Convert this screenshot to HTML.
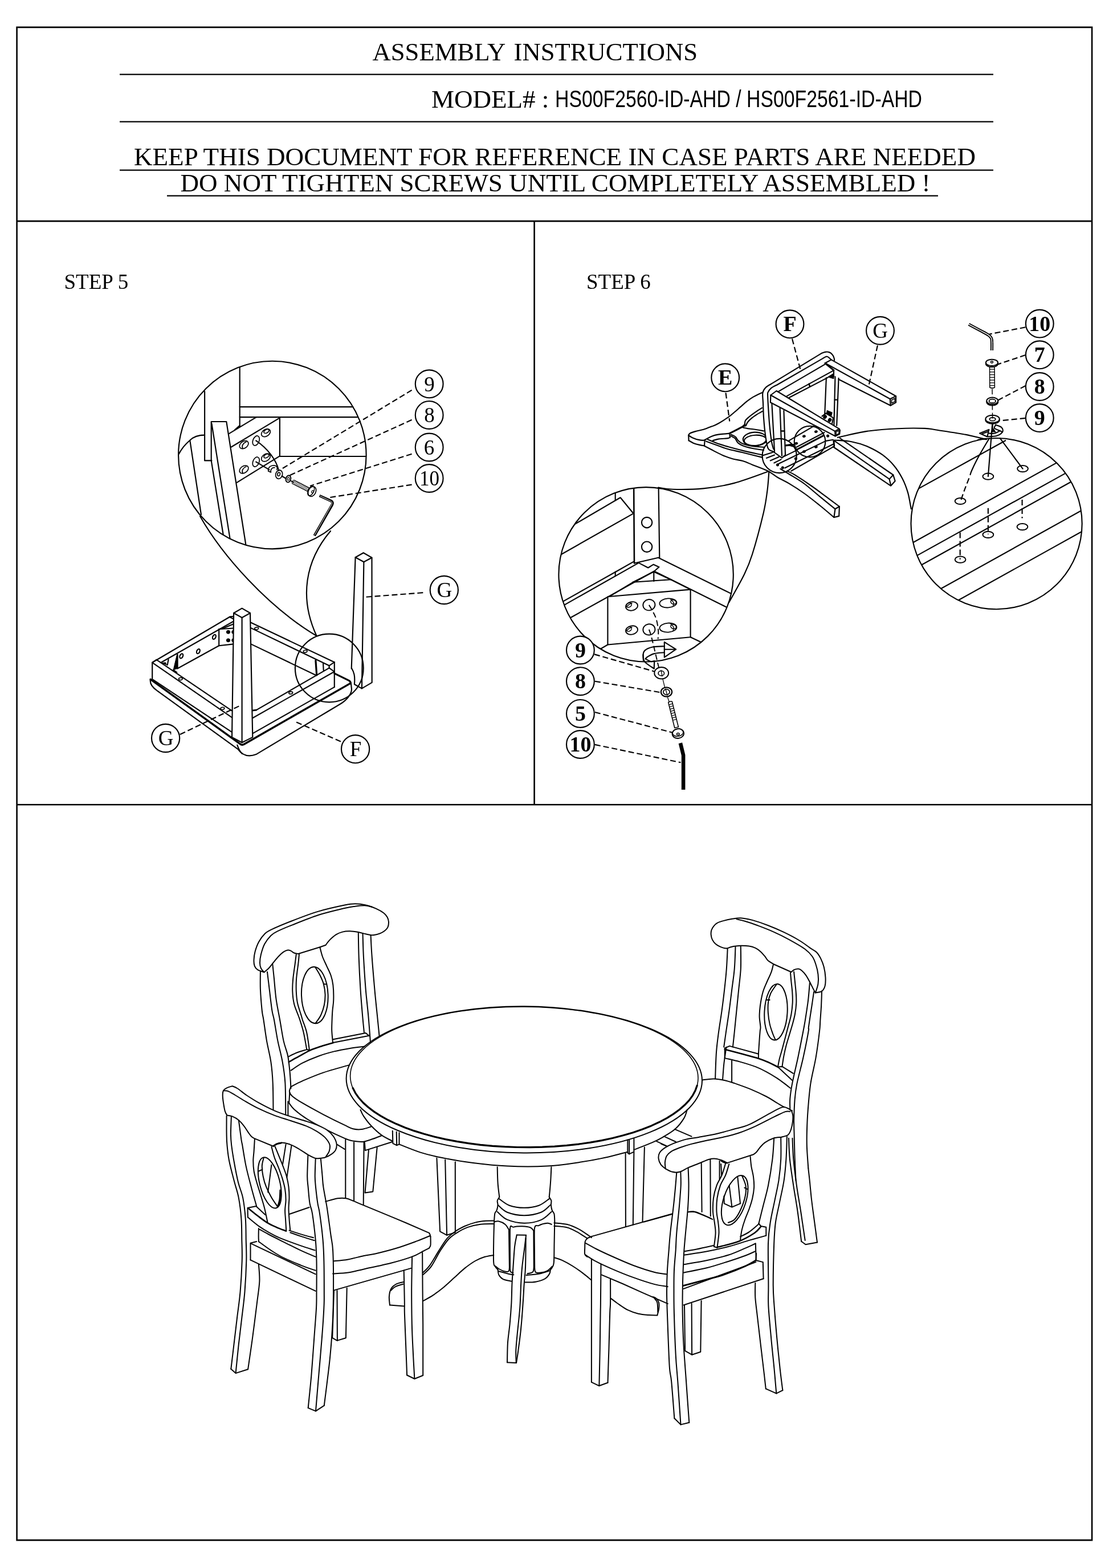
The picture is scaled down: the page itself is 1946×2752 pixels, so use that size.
<!DOCTYPE html>
<html lang="en">
<head>
<meta charset="utf-8">
<title>Assembly Instructions</title>
<style>
html,body{margin:0;padding:0;background:#fff;}
body{width:1946px;height:2752px;overflow:hidden;position:relative;}
svg{position:absolute;left:0;top:0;display:block;will-change:transform;}
path,circle,ellipse,rect,line,polyline,polygon{vector-effect:non-scaling-stroke;}
text{font-family:"Liberation Serif",serif;fill:#000;stroke:none;}
.sans{font-family:"Liberation Sans",sans-serif;}
.l{fill:none;stroke:#000;stroke-width:1.9;stroke-linecap:round;stroke-linejoin:round;}
.d{fill:none;stroke:#000;stroke-width:1.9;stroke-dasharray:10 5;}
.w{fill:#fff;stroke:#000;stroke-width:1.9;stroke-linejoin:round;}
.k{fill:#000;stroke:#000;stroke-width:1;}
.s56 .l,.s56 .w,.s56 .d{stroke-width:2.15;}
.main .l,.main .w{stroke-width:2;}
</style>
</head>
<body>
<svg width="1946" height="2752" viewBox="0 0 1946 2752">
<!-- 00_frame.svg -->
<g fill="none" stroke="#000" stroke-width="2.6" stroke-linecap="butt">
<rect x="29.6" y="47.9" width="1886.5" height="2655.2"/>
<path d="M29.6 388.1H1916.1M29.6 1412.3H1916.1M937.6 388.1V1412.3"/>
</g>
<path fill="none" stroke="#000" stroke-width="2.2" d="M210 130.6H1743M210 213.7H1743M210 298.6H1743M293 343.6H1646"/>
<text x="653.5" y="106" font-size="45" word-spacing="4.9" textLength="570.5" lengthAdjust="spacingAndGlyphs">ASSEMBLY INSTRUCTIONS</text>
<text x="757" y="189" font-size="45">MODEL# :</text>
<text class="sans" x="974" y="187.5" font-size="42" textLength="644" lengthAdjust="spacingAndGlyphs">HS00F2560-ID-AHD / HS00F2561-ID-AHD</text>
<text x="235" y="290" font-size="45" textLength="1477" lengthAdjust="spacingAndGlyphs">KEEP THIS DOCUMENT FOR REFERENCE IN CASE PARTS ARE NEEDED</text>
<text x="316.5" y="336" font-size="45" textLength="1316" lengthAdjust="spacingAndGlyphs">DO NOT TIGHTEN SCREWS UNTIL COMPLETELY ASSEMBLED !</text>
<text x="112.5" y="507" font-size="37">STEP 5</text>
<text x="1029" y="507" font-size="37">STEP 6</text>
<!-- 10_step5_bubble.svg -->
<g class="s56">
<!-- Step 5 magnified bubble: coordinates traced at 4.06x from origin (300,620) -->
<g transform="translate(300 620) scale(0.24631)" class="l">
<circle cx="722" cy="725" r="669"/>
<!-- back rails -->
<path d="M490 100V520M240 272V765H290"/>
<path d="M490 382H1297M490 455H1330M775 735H1390"/>
<!-- seat edge on the left -->
<path d="M240 583C190 583 160 595 135 620C100 650 70 690 55 720M135 620L215 1150"/>
<!-- leg G -->
<path d="M287 487H395L533 1362M287 487V765L372 1290M290 500L420 1318"/>
<!-- corner block -->
<path d="M410 575L605 457M455 545L490 515M430 668L775 460V732L468 922"/>
<!-- holes -->
<g stroke-width="1.72">
<ellipse cx="520" cy="652" rx="35" ry="24" transform="rotate(-35 520 652)"/>
<path d="M512 680C500 660 515 640 535 632"/>
<ellipse cx="606" cy="623" rx="22" ry="36" transform="rotate(22 606 623)"/>
<ellipse cx="676" cy="567" rx="35" ry="24" transform="rotate(-35 676 567)"/>
<ellipse cx="680" cy="556" rx="20" ry="12" transform="rotate(-30 680 556)"/>
<ellipse cx="520" cy="828" rx="35" ry="24" transform="rotate(-35 520 828)"/>
<path d="M512 856C500 836 515 816 535 808"/>
<ellipse cx="606" cy="774" rx="22" ry="36" transform="rotate(22 606 774)"/>
<ellipse cx="676" cy="743" rx="35" ry="24" transform="rotate(-35 676 743)"/>
<ellipse cx="680" cy="732" rx="20" ry="12" transform="rotate(-30 680 732)"/>
</g>
<!-- guide lines from holes -->
<path d="M606 623C690 680 750 760 768 835M606 774L700 830M790 875L815 890M855 910L872 918"/>
<!-- half washer -->
<path d="M693 840C690 815 710 795 740 800C755 803 760 815 755 830M693 840L712 848C708 828 720 812 740 815" stroke-width="1.72"/>
<!-- washer 9 -->
<ellipse cx="770" cy="864" rx="24" ry="31" transform="rotate(15 770 864)" stroke-width="1.72"/>
<ellipse cx="768" cy="862" rx="9" ry="13" transform="rotate(15 768 862)" stroke-width="1.72"/>
<!-- washer 8 -->
<ellipse cx="836" cy="895" rx="17" ry="25" transform="rotate(15 836 895)" stroke-width="1.97"/>
<ellipse cx="836" cy="895" rx="7" ry="11" transform="rotate(15 836 895)" stroke-width="1.23"/>
<!-- screw 6 -->
<g transform="translate(870 916) rotate(27)">
<path d="M0 -14H130M0 14H130M0 -14C-6 -7 -6 7 0 14" stroke-width="1.23"/>
<path d="M8 -14V14M18 -14V14M28 -14V14M38 -14V14M48 -14V14M58 -14V14M68 -14V14M78 -14V14M88 -14V14M98 -14V14M108 -14V14M118 -14V14" stroke-width="0.99"/>
<path d="M130 -14L140 -30M130 14L140 30" stroke-width="1.48"/>
<ellipse cx="152" cy="0" rx="26" ry="37" stroke-width="1.72" fill="#fff"/>
<ellipse cx="143" cy="0" rx="20" ry="36" stroke-width="1.48"/>
<ellipse cx="156" cy="0" rx="7" ry="9" stroke-width="1.23"/>
</g>
<!-- allen key 10 -->
<path d="M1058 1015L1140 1052C1152 1058 1154 1068 1148 1080L1022 1300" stroke-width="4.6" stroke-linecap="butt"/>
<path d="M1062 1017L1138 1054C1148 1060 1150 1068 1145 1078L1023 1296" stroke="#fff" stroke-width="0.9" stroke-linecap="butt"/>
</g>
<!-- leaders + callouts -->
<path class="d" d="M722.6 684.7L491 825M722.6 736.8L509 834M722.6 796.8L544 853M722.6 850.6L576 873.5"/>
<g class="l">
<circle cx="753.2" cy="673.8" r="24.4"/><circle cx="753.2" cy="728.4" r="24.4"/><circle cx="753.2" cy="785" r="24.4"/><circle cx="753.2" cy="839.5" r="24.4"/>
</g>
<g font-size="37" text-anchor="middle">
<text x="753.5" y="686.5">9</text><text x="753.5" y="741">8</text><text x="753" y="797.5">6</text><text x="753.5" y="852" textLength="35" lengthAdjust="spacingAndGlyphs">10</text>
</g>
</g>
<!-- 11_step5_frame.svg -->
<g class="s56">
<path class="l" d="M263.8 1192.9C262.9 1200.9 267.2 1206.5 275.9 1212.3L417.5 1314.9C424.9 1325.3 434.7 1329.6 449.3 1324.1L597.3 1235.5C608.4 1228.7 617.0 1218.2 617.0 1209.6L615.8 1198.5"/>
<path class="l" d="M416.3 1307.5 C418.1 1313.0 420.0 1317.9 424.9 1322.9"/>
<path class="l" style="stroke-width:3.4" d="M264.2 1192.3L421.2 1305.6Q424.9 1308.7 428.3 1306.2L615.1 1199.1"/>
<path class="l" style="stroke-width:3.2" d="M586.8 1181.9 L612.7 1194.6 Q615.5 1196.1 615.3 1199.8"/>
<path class="l" d="M267.2 1162.8L267.2 1191.7"/>
<path class="l" d="M268.5 1192.9L406.4 1284.7"/>
<path class="l" d="M267.2 1162.8L406.4 1258.8"/>
<path class="l" d="M274.6 1157.9L406.4 1247.1"/>
<path class="l" d="M267.2 1162.8L274.6 1157.9"/>
<path class="l" d="M267.2 1162.8L403.9 1082.2L410.1 1081.9"/>
<path class="l" d="M282.6 1162.8L410.1 1090.2"/>
<path class="l" d="M311.6 1173.3L384.2 1133.3L410.1 1130.4"/>
<path class="l" d="M384.2 1104.3L384.2 1133.3"/>
<path class="l" d="M384.2 1104.3L410.1 1102.5"/>
<path class="l" d="M390.4 1103.3L410.1 1095.1"/>
<path class="l" d="M402.7 1082.8L410.1 1086.5"/>
<path class="l" d="M295.6 1157.3L293.7 1167.1"/>
<path class="k" d="M311.0 1146.8L304.2 1175.8L311.6 1173.3Z"/>
<path class="l" d="M311.6 1148.7L311.6 1173.3"/>
<path class="l" d="M304.2 1175.8L310.3 1180.1"/>
<path class="k" d="M284.5 1163.4L290.6 1162.8L292.5 1167.1Z"/>
<ellipse class="l" cx="318.3" cy="1151.4" rx="2.6" ry="4.2" transform="rotate(25 318.3 1151.4)"/>
<ellipse class="l" cx="347.9" cy="1143.1" rx="2.6" ry="4.2" transform="rotate(25 347.9 1143.1)"/>
<ellipse class="l" cx="375.9" cy="1117.9" rx="2.6" ry="4.2" transform="rotate(25 375.9 1117.9)"/>
<ellipse class="k" cx="400.5" cy="1109.3" rx="3.2" ry="3.0" transform="rotate(0 400.5 1109.3)"/>
<ellipse class="k" cx="400.5" cy="1123.8" rx="3.2" ry="3.0" transform="rotate(0 400.5 1123.8)"/>
<path class="k" d="M409.7 1106.3 a3 3 0 0 0 0 6Z"/>
<path class="k" d="M409.7 1120.8 a3 3 0 0 0 0 6Z"/>
<path class="l" d="M439.4 1092.3L586.8 1162.2"/>
<path class="l" d="M439.7 1101.9L577.6 1168.3"/>
<path class="l" d="M440.3 1130.4L554.2 1185.0"/>
<path class="l" d="M586.8 1162.2L577.6 1168.3"/>
<path class="l" d="M577.6 1168.3L577.6 1172.4"/>
<path class="l" d="M577.6 1172.4L586.8 1178.8"/>
<path class="l" d="M586.8 1162.2L586.8 1205.9"/>
<path class="l" d="M577.6 1172.4L449.9 1246.1"/>
<path class="l" d="M586.8 1178.8L443.7 1260.0"/>
<path class="l" d="M586.8 1205.9L443.7 1287.1"/>
<path class="l" style="stroke-width:2.6" d="M441.9 1247.1L449.9 1246.1"/>
<path class="l" style="stroke-width:3.2" d="M553.9 1159.1L555.7 1185.0"/>
<path class="l" d="M567.1 1164.7L567.7 1176.4"/>
<ellipse class="l" style="stroke-width:1.7" cx="316.9" cy="1191.5" rx="3.4" ry="2.1" transform="rotate(-8 316.9 1191.5)"/>
<ellipse class="l" style="stroke-width:1.7" cx="390.4" cy="1243.4" rx="3.4" ry="2.1" transform="rotate(-8 390.4 1243.4)"/>
<ellipse class="l" style="stroke-width:1.7" cx="450.2" cy="1102.9" rx="3.4" ry="2.1" transform="rotate(-8 450.2 1102.9)"/>
<ellipse class="l" style="stroke-width:1.7" cx="535.7" cy="1143.1" rx="3.4" ry="2.1" transform="rotate(-8 535.7 1143.1)"/>
<ellipse class="l" style="stroke-width:1.7" cx="510.2" cy="1216.0" rx="3.4" ry="2.1" transform="rotate(-8 510.2 1216.0)"/>
<path class="w" d="M410.1 1076.0L424.6 1067.6L439.0 1076.0L443.3 1293.9L424.6 1303.2L407.0 1293.9Z"/>
<path class="l" d="M410.1 1076.0L424.6 1084.0L439.0 1076.0"/>
<path class="l" d="M424.6 1084.0L424.6 1303.2"/>
<path class="w" d="M623.6 978.3 L637.7 970.2 L652.5 978.8 L652.7 1197.9 L634.9 1208.4 L621.9 1201.0 C623.2 1186.2 621.3 1180.0 617.0 1172.7 L616.7 1173.4 Z"/>
<path class="l" d="M623.6 978.3L638.4 986.2L652.5 978.8"/>
<path class="l" d="M638.4 986.2L634.9 1208.4"/>
<circle class="l" cx="577.8" cy="1172.5" r="59.9"/>
<path class="l" d="M351 906C390 975 470 1065 555.5 1116"/>
<path class="l" d="M580 932C535 985 525 1050 555.5 1116"/>
<path class="d" d="M315.9 1289.0 L419.3 1239.4"/>
<path class="d" d="M520.1 1267.4 L602.5 1303.5"/>
<path class="d" d="M642.6 1047.8 L746.1 1039.9"/>
<circle class="w" cx="290.6" cy="1295.5" r="24.6"/>
<text x="291.1" y="1308.0" font-size="37" text-anchor="middle">G</text>
<circle class="w" cx="623.6" cy="1314.7" r="24.6"/>
<text x="624.1" y="1327.2" font-size="37" text-anchor="middle">F</text>
<circle class="w" cx="779.3" cy="1035.5" r="24.6"/>
<text x="779.8" y="1048.0" font-size="37" text-anchor="middle">G</text>
</g>
<!-- 20_step6_chair.svg -->
<g class="s56">
<clipPath id="cs6"><path d="M1180 700H1339.0L1345.8 800H1180Z"/></clipPath>
<g clip-path="url(#cs6)">
<ellipse class="l" cx="1324.4" cy="770.5" rx="20.6" ry="11.9" transform="rotate(-3 1324.4 770.5)"/>
<ellipse class="l" cx="1325.7" cy="772.9" rx="19.8" ry="9.2" transform="rotate(-3 1325.7 772.9)"/>
</g>
<path class="l" d="M1208.2 763.7C1208.7 763.1 1209.0 761.4 1211.2 760.3C1213.4 759.1 1217.7 757.9 1221.6 756.8C1225.4 755.7 1230.0 755.2 1234.5 753.8C1238.9 752.4 1244.3 750.2 1248.3 748.6C1252.3 747.0 1253.7 747.1 1258.6 744.3C1263.6 741.6 1273.0 735.6 1278.1 732.2C1283.1 728.7 1285.3 726.4 1288.9 723.3C1292.5 720.3 1296.1 717.0 1299.7 713.9C1303.3 710.7 1307.0 707.2 1310.6 704.4C1314.2 701.6 1318.0 699.0 1321.4 696.9C1324.8 694.9 1328.1 693.3 1330.9 691.9C1333.7 690.6 1337.1 689.3 1338.3 688.8"/>
<path class="l" d="M1208.2 763.7L1208.6 773.2"/>
<path class="l" d="M1208.2 764.1C1209.4 764.9 1212.6 767.2 1215.5 768.4C1218.5 769.7 1222.7 771.2 1225.9 771.9C1229.0 772.6 1232.5 772.8 1234.5 772.8C1236.5 772.7 1237.4 771.7 1237.9 771.5"/>
<path class="l" d="M1208.6 773.2C1210.1 774.0 1214.1 776.6 1217.2 777.9C1220.4 779.2 1224.4 780.2 1227.6 780.9C1230.7 781.7 1234.8 782.2 1236.2 782.4"/>
<path class="l" d="M1236.6 772.8L1236.0 782.7"/>
<path class="l" d="M1237.9 771.5C1239.7 770.5 1244.5 767.3 1248.3 765.9C1252.0 764.4 1256.2 763.3 1260.3 762.6C1264.5 761.8 1270.0 761.7 1273.3 761.4C1276.6 761.1 1279.0 760.8 1280.2 760.7"/>
<path class="l" d="M1250.9 773.2C1252.4 772.8 1257.0 771.2 1260.3 770.6C1263.6 770.0 1267.8 770.0 1270.7 769.7C1273.6 769.5 1275.9 769.5 1277.6 769.1C1279.3 768.8 1280.3 768.0 1280.9 767.8"/>
<path class="l" d="M1280.2 760.7L1281.0 767.8"/>
<path class="l" style="stroke-width:3" d="M1280.2 760.7C1282.3 759.6 1289.2 756.2 1293.1 754.2C1297.0 752.2 1301.1 750.1 1303.4 748.6C1305.7 747.1 1306.3 745.7 1306.9 745.2"/>
<path class="l" d="M1241.4 771.0C1244.5 772.3 1254.3 776.6 1260.3 778.8C1266.4 780.9 1270.4 782.0 1277.6 784.0C1284.8 786.0 1293.4 788.4 1303.4 790.9C1313.5 793.3 1332.2 797.3 1337.9 798.6"/>
<path class="l" d="M1238.8 774.5C1242.4 775.8 1253.9 779.9 1260.3 782.2C1266.8 784.5 1270.4 786.3 1277.6 788.3C1284.8 790.3 1293.4 791.9 1303.4 794.3C1313.5 796.8 1332.2 801.5 1337.9 802.9"/>
<path class="l" d="M1236.2 782.7C1238.8 784.0 1246.3 788.1 1251.7 790.9C1257.2 793.7 1263.2 797.0 1269.0 799.5C1274.7 801.9 1280.5 803.9 1286.2 805.5C1292.0 807.1 1297.7 807.2 1303.4 809.0C1309.2 810.7 1313.3 812.9 1320.7 815.9C1328.1 818.8 1340.4 823.1 1347.6 826.7C1354.8 830.3 1357.8 833.9 1363.9 837.5C1370.0 841.1 1376.3 843.6 1384.2 848.4C1392.1 853.1 1402.2 859.5 1411.3 866.0C1420.3 872.4 1429.7 880.0 1438.4 887.0C1447.1 894.0 1459.3 904.5 1463.4 908.0"/>
<path class="l" d="M1282.8 762.8C1284.1 763.5 1288.4 764.9 1290.5 766.7C1292.7 768.5 1293.5 771.6 1295.7 773.6C1297.8 775.6 1299.3 777.2 1303.4 778.8C1307.6 780.4 1314.6 782.1 1320.7 783.1C1326.8 784.1 1336.8 784.5 1340.0 784.8"/>
<path class="l" d="M1282.8 765.4C1283.9 766.1 1287.6 767.4 1289.7 769.3C1291.7 771.2 1292.5 774.9 1294.8 777.1C1297.1 779.2 1299.1 780.6 1303.4 782.2C1307.8 783.9 1314.6 785.7 1320.7 787.0C1326.8 788.3 1336.8 789.5 1340.0 790.0"/>
<path class="l" d="M1303.4 750.3C1304.9 750.6 1308.5 751.5 1312.1 752.1C1315.7 752.6 1320.3 753.1 1325.0 753.8C1329.7 754.5 1337.5 755.9 1340.0 756.4"/>
<path class="l" d="M1306.9 745.2C1307.1 744.0 1306.6 740.5 1307.9 738.2C1309.1 736.0 1311.7 734.0 1314.6 731.5C1317.6 729.0 1321.7 725.9 1325.5 723.3C1329.2 720.8 1335.1 717.1 1337.0 715.9"/>
<path class="l" d="M1308.8 747.1C1309.3 746.1 1310.3 743.1 1311.9 741.0C1313.6 738.8 1316.0 736.4 1318.7 734.2C1321.4 731.9 1325.0 729.4 1328.2 727.4C1331.3 725.4 1336.1 722.9 1337.7 722.0"/>
<path class="l" d="M1303.4 748.6L1308.8 747.1"/>
<path class="l" d="M1356.6 792.4C1355.2 791.5 1350.1 791.8 1347.8 787.0C1345.6 782.3 1344.4 772.8 1343.1 764.0C1341.8 755.2 1340.8 743.7 1340.1 734.2C1339.4 724.7 1339.3 714.6 1339.0 707.1C1338.7 699.6 1337.6 693.9 1338.4 689.4C1339.2 684.9 1340.9 682.9 1343.5 680.2C1346.2 677.5 1352.6 674.3 1354.4 673.2L1441.1 620.3C1442.2 619.9 1445.7 618.3 1447.9 617.9C1450.0 617.5 1451.9 617.2 1454.0 617.9C1456.0 618.5 1458.5 620.0 1460.0 621.7C1461.6 623.3 1462.8 626.0 1463.4 627.8C1464.1 629.6 1464.0 631.7 1464.1 632.5"/>
<path class="l" d="M1357.3 788.4C1356.7 786.1 1355.0 781.6 1353.9 774.8C1352.8 768.1 1351.4 756.8 1350.5 747.7C1349.6 738.7 1349.1 729.7 1348.5 720.6C1347.9 711.6 1347.2 698.9 1347.1 693.5C1347.0 688.0 1346.9 690.1 1347.9 688.1C1348.9 686.0 1350.4 683.4 1353.0 681.3C1355.7 679.1 1362.1 676.2 1363.9 675.2L1443.8 629.1C1445.0 628.6 1448.9 625.4 1451.2 625.7C1453.6 626.0 1456.9 630.0 1458.0 630.9"/>
<path class="l" d="M1447.2 639.6L1365.5 687.4"/>
<path class="l" d="M1462.5 650.4L1380.8 695.1"/>
<path class="l" d="M1452.6 662.6L1384.9 697.8"/>
<path class="l" style="stroke-width:2.6" d="M1419.7 673.8L1421.0 678.3"/>
<path class="l" d="M1458.7 631.4L1572.1 695.2"/>
<path class="l" d="M1447.9 637.3L1561.9 700.2"/>
<path class="l" d="M1471.6 665.7L1562.6 711.8"/>
<path class="l" d="M1447.9 637.3L1458.7 631.4"/>
<path class="l" style="stroke-width:3" d="M1447.9 637.7L1463.0 649.9"/>
<path class="l" d="M1561.9 700.3L1572.1 695.3L1572.1 706.4L1562.6 711.8Z"/>
<path class="l" style="stroke-width:1.6" d="M1564.6 702.0L1570.3 699.3L1570.3 704.8L1564.6 707.7Z"/>
<path class="l" d="M1449.9 663.0L1447.2 727.3"/>
<path class="l" d="M1465.5 661.0L1463.4 746.3"/>
<path class="l" d="M1471.6 663.7L1468.2 747.0"/>
<path class="l" d="M1463.0 649.9L1463.0 661.0"/>
<path class="l" style="stroke-width:2.4" d="M1464.8 701.6L1469.5 701.6"/>
<path class="k" d="M1452.6 661.6L1462.8 655.3L1463.0 664.8Z"/>
<path class="k" d="M1451.2 720.3L1460.3 724.0L1458.7 730.3L1450.3 726.8Z"/>
<path class="l" d="M1442.4 730.7L1449.2 725.3L1462.1 733.4L1460.0 743.6"/>
<ellipse class="k" cx="1447.6" cy="731.7" rx="2.8" ry="3.4" transform="rotate(30 1447.6 731.7)"/>
<ellipse class="k" cx="1456.0" cy="737.1" rx="2.8" ry="3.4" transform="rotate(30 1456.0 737.1)"/>
<path class="l" d="M1354.4 708.4L1359.1 792.4"/>
<path class="l" d="M1368.6 716.5L1372.0 799.9"/>
<path class="l" d="M1375.4 720.6L1378.1 799.9"/>
<path class="l" style="stroke-width:2.4" d="M1370.6 756.5L1376.1 756.5"/>
<path class="w" d="M1352.4 693.5L1362.5 686.0L1472.5 752.7L1473.9 755.1L1473.2 761.9L1465.7 765.5L1351.9 706.3Z"/>
<path class="l" d="M1352.4 693.5L1465.2 756.9"/>
<path class="l" d="M1465.2 756.9L1472.5 752.7"/>
<path class="l" d="M1465.2 756.9L1465.7 765.5"/>
<path class="l" style="stroke-width:1.5" d="M1467.1 758.2L1472.0 755.5L1472.0 760.9L1467.4 763.4Z"/>
<path class="l" d="M1383.5 773.9L1427.5 748.1"/>
<path class="l" d="M1397.7 784.7L1446.5 759.0"/>
<path class="l" style="stroke-width:3" d="M1398.4 789.0L1445.1 764.4"/>
<path class="l" d="M1374.7 801.6L1397.7 790.4"/>
<path class="l" d="M1366.6 813.8L1449.2 773.9"/>
<path class="l" d="M1377.4 821.3L1462.8 779.3"/>
<path class="l" d="M1388.2 826.7L1464.1 783.1"/>
<path class="l" d="M1449.2 773.9L1462.1 771.8"/>
<path class="l" d="M1463.4 773.9L1464.1 783.1"/>
<ellipse class="k" cx="1410.9" cy="765.7" rx="2.6" ry="1.9" transform="rotate(-10 1410.9 765.7)"/>
<ellipse class="k" cx="1431.9" cy="757.6" rx="2.6" ry="1.9" transform="rotate(-10 1431.9 757.6)"/>
<ellipse class="k" cx="1397.3" cy="778.2" rx="2.6" ry="1.9" transform="rotate(-10 1397.3 778.2)"/>
<ellipse class="k" cx="1431.9" cy="784.4" rx="2.6" ry="1.9" transform="rotate(-10 1431.9 784.4)"/>
<ellipse class="k" cx="1410.9" cy="792.6" rx="2.6" ry="1.9" transform="rotate(-10 1410.9 792.6)"/>
<ellipse class="k" cx="1396.4" cy="805.0" rx="2.2" ry="2.2"/>
<ellipse class="k" cx="1364.5" cy="815.9" rx="2.2" ry="2.2"/>
<ellipse class="k" cx="1373.3" cy="820.9" rx="2.2" ry="2.2"/>
<ellipse class="k" cx="1452.6" cy="765.1" rx="2.2" ry="2.2"/>
<path class="l" d="M1338.1 799.6L1355.7 793.9"/>
<path class="l" d="M1344.9 803.9L1359.1 798.5"/>
<path class="l" d="M1351.7 808.4L1366.6 802.0"/>
<path class="l" d="M1358.4 812.5L1370.6 806.4"/>
<path class="l" d="M1357.1 792.8L1372.0 803.7L1376.7 799.6"/>
<path class="k" d="M1379.4 780.6L1393.7 784.7L1389.6 779.3Z"/>
<path class="l" style="stroke-width:3" d="M1378.1 782.0L1392.3 780.6"/>
<circle class="l" cx="1367.7" cy="800.0" r="30.1"/>
<circle class="l" cx="1421.0" cy="775.0" r="27.3"/>
<path class="l" d="M1381.5 826.7C1383.7 827.9 1387.8 829.3 1395.0 833.7C1402.2 838.2 1415.8 847.2 1424.8 853.5C1433.9 859.8 1441.2 865.5 1449.2 871.4C1457.2 877.3 1469.0 886.1 1472.9 889.0"/>
<path class="l" d="M1369.3 822.9C1372.2 824.7 1379.9 829.1 1386.9 833.5C1393.9 837.8 1402.7 842.7 1411.3 849.0C1419.9 855.4 1429.3 864.0 1438.4 871.4C1447.4 878.8 1460.9 889.7 1465.5 893.3"/>
<path class="l" d="M1465.5 893.3L1472.9 889.0L1472.2 905.9L1463.4 908.0Z"/>
<path class="l" d="M1473.9 769.1L1567.3 833.5"/>
<path class="l" d="M1464.4 773.9L1560.6 840.9"/>
<path class="l" d="M1461.7 784.0L1562.6 852.4"/>
<path class="l" d="M1567.3 833.5L1570.7 844.3L1563.3 852.4L1560.6 840.9Z"/>
<path class="l" d="M1462.4 773.9L1463.7 784.0"/>
</g>
<!-- 21_step6_bubbles.svg -->
<g class="s56">
<clipPath id="cb1"><circle cx="1133.6" cy="1008.3" r="153.2"/></clipPath>
<g clip-path="url(#cb1)">
<path class="l" style="stroke-width:2.6" d="M1112.1 848.9L1113.0 988.5"/>
<path class="l" d="M1155.5 848.9L1157.3 978.8"/>
<circle class="l" cx="1135.1" cy="917.1" r="9.2"/>
<circle class="l" cx="1135.1" cy="959.7" r="9.2"/>
<path class="l" d="M1113.0 988.5L1120.7 986.8L1155.1 978.8"/>
<path class="l" d="M1004.3 922.5L1088.6 873.3L1110.7 900.3"/>
<path class="l" d="M1079.7 860.0L1079.7 878.1"/>
<path class="l" d="M980.0 975.7L1109.9 902.1"/>
<path class="l" d="M986.6 1056.4L1079.7 1004.0L1112.1 985.6"/>
<path class="l" d="M988.8 1062.6L1079.7 1011.1"/>
<path class="l" d="M1079.7 1003.6L1079.7 1011.1"/>
<path class="l" d="M1079.7 1011.1L1120.7 987.9"/>
<path class="l" d="M1120.7 987.9L1137.3 996.5L1146.7 990.7L1156.4 995.2L1148.4 1002.3L999.9 1084.7"/>
<path class="l" d="M1155.1 978.8L1288.1 1044.4"/>
<path class="l" d="M1148.4 1002.7L1279.2 1067.9"/>
<path class="l" d="M1110.7 1021.8L1147.3 1003.2L1147.3 1020.0"/>
<path class="l" d="M1147.3 1003.6L1177.2 1017.3"/>
<path class="l" d="M1110.7 1021.8L1177.2 1017.3"/>
<path class="l" d="M1070.8 1046.2L1110.7 1021.8"/>
<path class="l" d="M1177.2 1017.3L1211.6 1034.6"/>
<path class="l" d="M1066.4 1047.3L1211.6 1034.6L1211.6 1118.2L1066.4 1131.5Z"/>
<path class="l" d="M1066.4 1131.5L1048.7 1141.9"/>
<path class="l" d="M1211.6 1118.2L1232.7 1128.2"/>
</g>
<circle class="l" cx="1133.6" cy="1008.3" r="153.2"/>
<ellipse class="l" style="stroke-width:1.9" cx="1108.5" cy="1063.9" rx="10.6" ry="7.6" transform="rotate(-12 1108.5 1063.9)"/>
<ellipse class="l" style="stroke-width:1.5" cx="1103.6" cy="1062.1" rx="5.0" ry="3.6" transform="rotate(-30 1103.6 1062.1)"/>
<path class="l" style="stroke-width:1.5" d="M1099.7 1064.8C1100.4 1064.1 1102.5 1061.8 1104.1 1060.8C1105.6 1059.8 1108.2 1058.9 1109.0 1058.6"/>
<ellipse class="l" style="stroke-width:1.9" cx="1108.5" cy="1106.0" rx="10.6" ry="7.6" transform="rotate(-12 1108.5 1106.0)"/>
<ellipse class="l" style="stroke-width:1.5" cx="1103.6" cy="1104.2" rx="5.0" ry="3.6" transform="rotate(-30 1103.6 1104.2)"/>
<path class="l" style="stroke-width:1.5" d="M1099.7 1106.9C1100.4 1106.2 1102.5 1103.9 1104.1 1102.9C1105.6 1101.9 1108.2 1101.1 1109.0 1100.7"/>
<ellipse class="l" style="stroke-width:1.9" cx="1138.9" cy="1061.7" rx="10.6" ry="9.6" transform="rotate(-10 1138.9 1061.7)"/>
<ellipse class="l" style="stroke-width:1.9" cx="1138.9" cy="1104.9" rx="10.6" ry="9.6" transform="rotate(-10 1138.9 1104.9)"/>
<ellipse class="l" style="stroke-width:1.9" cx="1172.4" cy="1058.4" rx="15.0" ry="8.0" transform="rotate(-4 1172.4 1058.4)"/>
<ellipse class="l" style="stroke-width:1.5" cx="1181.7" cy="1056.6" rx="5.0" ry="3.6" transform="rotate(20 1181.7 1056.6)"/>
<path class="l" style="stroke-width:1.5" d="M1176.8 1051.7C1177.7 1052.7 1181.4 1056.1 1182.1 1057.9C1182.9 1059.8 1181.4 1062.0 1181.2 1062.8"/>
<ellipse class="l" style="stroke-width:1.9" cx="1172.4" cy="1101.6" rx="15.0" ry="8.0" transform="rotate(-4 1172.4 1101.6)"/>
<ellipse class="l" style="stroke-width:1.5" cx="1181.7" cy="1099.8" rx="5.0" ry="3.6" transform="rotate(20 1181.7 1099.8)"/>
<path class="l" style="stroke-width:1.5" d="M1176.8 1094.9C1177.7 1096.0 1181.4 1099.3 1182.1 1101.1C1182.9 1103.0 1181.4 1105.2 1181.2 1106.0"/>
<path class="d" style="stroke-width:1.9" stroke-dasharray="22 6" d="M1138.9 1061.7C1140.9 1065.4 1147.9 1076.5 1150.6 1083.8C1153.3 1091.2 1154.4 1099.7 1155.1 1106.0C1155.7 1112.3 1154.7 1118.9 1154.6 1121.5"/>
<path class="d" style="stroke-width:1.9" stroke-dasharray="22 6" d="M1138.9 1104.9C1139.7 1107.5 1140.7 1108.8 1143.7 1120.3C1146.6 1131.8 1154.4 1165.0 1156.6 1173.9"/>
<path class="l" style="stroke-width:1.3" d="M1163.1 1192.4L1166.7 1207.1"/>
<path class="l" style="stroke-width:1.3" d="M1171.4 1223.8L1174.1 1231.5"/>
<path class="l" d="M1165.5 1134.2C1162.1 1134.4 1151.1 1134.2 1145.5 1135.5C1139.9 1136.7 1134.5 1139.0 1131.6 1141.6C1128.8 1144.1 1128.5 1147.4 1128.5 1150.8C1128.5 1154.2 1128.4 1158.1 1131.6 1161.9C1134.9 1165.7 1145.0 1171.6 1147.7 1173.5"/>
<path class="l" d="M1165.5 1145.3C1162.6 1145.6 1153.1 1145.9 1148.3 1147.1C1143.4 1148.3 1138.9 1151.1 1136.3 1152.7C1133.6 1154.2 1133.2 1155.7 1132.6 1156.3"/>
<path class="l" d="M1132.6 1156.3C1134.1 1157.1 1139.2 1160.3 1141.8 1161.0C1144.4 1161.6 1147.2 1160.2 1148.3 1160.0"/>
<path class="l" d="M1128.5 1149.0L1128.9 1159.1"/>
<path class="l" d="M1148.3 1160.0L1147.7 1173.5"/>
<path class="l" d="M1165.8 1126.8L1186.1 1139.7L1165.8 1153.6Z"/>
<path class="l" d="M1165.8 1139.7L1186.1 1139.7"/>
<ellipse class="w" style="stroke-width:2" cx="1160.7" cy="1181.3" rx="12.4" ry="10.2"/>
<ellipse class="l" style="stroke-width:1.7" cx="1160.3" cy="1181.7" rx="5.2" ry="4.2"/>
<path class="l" style="stroke-width:1.3" d="M1159.9 1176.1L1162.1 1186.8"/>
<ellipse class="w" style="stroke-width:2.2" cx="1169.5" cy="1214.5" rx="9.6" ry="8.2"/>
<ellipse class="l" style="stroke-width:1.7" cx="1169.5" cy="1214.5" rx="5.6" ry="4.8"/>
<path class="l" style="stroke-width:1.3" d="M1167.7 1209.0L1171.0 1220.1"/>
<g transform="translate(1176.0 1232.1) rotate(76)">
<path class="w" style="stroke-width:1.6" d="M0 -3.4H46V3.4H0Q-2 0 0 -3.4Z"/>
<path class="l" style="stroke-width:1.2" d="M4 -3.4V3.4M8 -3.4V3.4M12 -3.4V3.4M16 -3.4V3.4M20 -3.4V3.4M24 -3.4V3.4M28 -3.4V3.4M32 -3.4V3.4"/>
</g>
<ellipse class="w" style="stroke-width:2" cx="1189.8" cy="1287.5" rx="10.2" ry="8.4" transform="rotate(-8 1189.8 1287.5)"/>
<ellipse class="l" style="stroke-width:1.5" cx="1189.5" cy="1285.7" rx="9.4" ry="6.6" transform="rotate(-8 1189.5 1285.7)"/>
<ellipse class="l" style="stroke-width:1.5" cx="1189.8" cy="1288.4" rx="2.3" ry="1.9"/>
<path d="M1193.9 1304.1L1199.1 1325.4L1199.1 1386.0" fill="none" stroke="#000" stroke-width="6.6" stroke-linejoin="round"/>
<path class="d" d="M1043.0 1148.4L1148.3 1178.5"/>
<path class="d" d="M1043.9 1195.7L1160.3 1215.5"/>
<path class="d" d="M1043.9 1250.0L1179.7 1285.7"/>
<path class="d" d="M1043.9 1306.9L1194.5 1338.3"/>
<circle class="w" cx="1018.4" cy="1141.0" r="24.4"/>
<text x="1018.4" y="1153.5" font-size="38" text-anchor="middle" font-weight="bold">9</text>
<circle class="w" cx="1018.4" cy="1195.7" r="24.4"/>
<text x="1018.4" y="1208.2" font-size="38" text-anchor="middle" font-weight="bold">8</text>
<circle class="w" cx="1018.4" cy="1252.4" r="24.4"/>
<text x="1018.4" y="1264.9" font-size="38" text-anchor="middle" font-weight="bold">5</text>
<circle class="w" cx="1018.4" cy="1306.5" r="24.4"/>
<text x="1018.4" y="1319.0" font-size="38" text-anchor="middle" font-weight="bold" textLength="38" lengthAdjust="spacingAndGlyphs">10</text>
<clipPath id="cb3"><circle cx="1748.6" cy="919.1" r="150.1"/></clipPath>
<g clip-path="url(#cb3)">
<path class="l" d="M1600.9 863.6L1764.3 773.2"/>
<path class="l" d="M1592.6 957.6L1860.6 808.6"/>
<path class="l" d="M1600.9 979.6L1877.3 826.4"/>
<path class="l" d="M1609.3 995.8L1887.8 841.0"/>
<path class="l" d="M1642.8 1037.8L1902.4 893.4"/>
<path class="l" d="M1672.1 1058.8L1906.6 928.3"/>
</g>
<circle class="l" cx="1748.6" cy="919.1" r="150.1"/>
<ellipse class="l" style="stroke-width:2" cx="1794.6" cy="822.6" rx="9.4" ry="5.6"/>
<ellipse class="l" style="stroke-width:2" cx="1733.9" cy="836.2" rx="9.4" ry="5.6"/>
<ellipse class="l" style="stroke-width:2" cx="1685.1" cy="879.5" rx="9.4" ry="5.6"/>
<ellipse class="l" style="stroke-width:2" cx="1794.0" cy="924.6" rx="9.4" ry="5.6"/>
<ellipse class="l" style="stroke-width:2" cx="1733.9" cy="938.4" rx="9.4" ry="5.6"/>
<ellipse class="l" style="stroke-width:2" cx="1685.1" cy="982.1" rx="9.4" ry="5.6"/>
<path class="l" d="M1754.8 769.2L1794.6 822.6"/>
<path class="l" d="M1741.2 745.1L1733.9 836.2"/>
<path class="l" d="M1736.0 769.2C1733.0 774.3 1723.3 790.3 1718.2 799.6C1713.1 808.8 1708.2 819.1 1705.6 824.7C1703.0 830.3 1703.0 831.7 1702.5 833.1"/>
<path class="d" stroke-dasharray="22 7" d="M1700.4 839.3C1699.2 842.5 1695.5 851.6 1693.1 858.2C1690.6 864.8 1687.0 875.6 1685.7 879.1"/>
<path class="d" stroke-dasharray="15 6" d="M1793.6 877.0L1793.6 909.5"/>
<path class="d" stroke-dasharray="15 6" d="M1733.9 891.7L1733.9 937.8"/>
<path class="d" stroke-dasharray="15 6" d="M1684.7 934.6L1684.7 981.7"/>
<path class="l" d="M1716.1 771.9L1730.8 769.8"/>
<path d="M1699.9 569.2C1703.1 570.9 1713.3 576.4 1719.1 579.5C1724.9 582.7 1731.2 585.7 1734.6 588.1C1738.0 590.4 1738.5 591.4 1739.5 593.5C1740.5 595.7 1740.4 597.4 1740.5 600.9C1740.7 604.5 1740.5 612.6 1740.5 615.0" fill="none" stroke="#000" stroke-width="5.2"/>
<path d="M1699.9 569.2C1703.1 570.9 1713.3 576.4 1719.1 579.5C1724.9 582.7 1731.2 585.7 1734.6 588.1C1738.0 590.4 1738.5 591.4 1739.5 593.5C1740.5 595.7 1740.4 597.4 1740.5 600.9C1740.7 604.5 1740.5 612.6 1740.5 615.0" fill="none" stroke="#fff" stroke-width="1.4"/>
<path class="w" style="stroke-width:1.5" d="M1736.5 643.8L1736.8 680.0Q1741.0 682.2 1745.4 680.0L1745.0 643.8Z"/>
<path class="l" style="stroke-width:1.2" d="M1736.7 648.2L1745.3 648.2M1736.7 652.9L1745.3 652.9M1736.7 657.7L1745.3 657.7M1736.7 662.4L1745.3 662.4M1736.7 667.1L1745.3 667.1M1736.7 671.9L1745.3 671.9M1736.7 676.6L1745.3 676.6"/>
<ellipse class="w" style="stroke-width:2" cx="1740.5" cy="638.6" rx="10.6" ry="5.6"/>
<ellipse class="w" style="stroke-width:2" cx="1740.5" cy="636.4" rx="10.6" ry="5.6"/>
<ellipse class="l" style="stroke-width:1.4" cx="1740.5" cy="635.4" rx="2.0" ry="1.6"/>
<ellipse class="w" style="stroke-width:2" cx="1741.3" cy="705.6" rx="10.0" ry="6.0"/>
<ellipse class="w" style="stroke-width:2" cx="1741.3" cy="703.6" rx="10.0" ry="6.0"/>
<ellipse class="l" style="stroke-width:1.8" cx="1741.3" cy="703.9" rx="5.8" ry="3.3"/>
<ellipse class="w" style="stroke-width:2" cx="1741.6" cy="737.2" rx="12.2" ry="6.6"/>
<ellipse class="w" style="stroke-width:2" cx="1741.6" cy="735.4" rx="12.2" ry="6.6"/>
<ellipse class="l" style="stroke-width:1.8" cx="1741.6" cy="735.7" rx="5.2" ry="2.9"/>
<path class="d" style="stroke-width:1.5" stroke-dasharray="12 5" d="M1741.0 682.2L1741.3 698.5"/>
<path class="d" style="stroke-width:1.5" stroke-dasharray="12 5" d="M1741.3 709.5L1741.6 734.7"/>
<path class="l" d="M1742.0 743.5L1741.0 757.6"/>
<path class="l" d="M1747.2 745.8C1748.9 746.5 1755.6 748.1 1757.5 750.2C1759.5 752.3 1760.5 755.9 1759.0 758.3C1757.5 760.8 1753.1 763.6 1748.7 765.0C1744.2 766.3 1735.1 766.2 1732.4 766.4"/>
<path class="l" d="M1747.2 745.8C1746.8 746.7 1743.7 749.9 1745.0 751.7C1746.2 753.4 1753.0 755.4 1754.6 756.1"/>
<path class="l" d="M1735.4 760.5C1737.1 760.5 1742.5 761.3 1745.7 760.5C1748.9 759.8 1753.1 756.8 1754.6 756.1"/>
<path class="l" d="M1754.6 756.1L1759.0 758.3"/>
<path class="l" d="M1719.1 760.5L1735.4 753.9L1732.4 766.4Z"/>
<path class="l" d="M1723.5 761.3L1733.9 757.6"/>
<path class="k" d="M1739.1 757.6L1742.8 751.7L1747.2 758.3Z"/>
<path class="d" d="M1799.6 574.3L1736.1 586.5"/>
<path class="d" d="M1799.6 623.1L1750.9 639.4"/>
<path class="d" d="M1799.6 677.0L1751.6 702.2"/>
<path class="d" d="M1799.6 733.9L1754.6 738.4"/>
<circle class="w" cx="1824.3" cy="568.1" r="24.4"/>
<text x="1824.3" y="580.6" font-size="38" text-anchor="middle" font-weight="bold" textLength="38" lengthAdjust="spacingAndGlyphs">10</text>
<circle class="w" cx="1824.3" cy="622.8" r="24.4"/>
<text x="1824.3" y="635.3" font-size="38" text-anchor="middle" font-weight="bold">7</text>
<circle class="w" cx="1824.3" cy="678.5" r="24.4"/>
<text x="1824.3" y="691.0" font-size="38" text-anchor="middle" font-weight="bold">8</text>
<circle class="w" cx="1824.3" cy="733.6" r="24.4"/>
<text x="1824.3" y="746.1" font-size="38" text-anchor="middle" font-weight="bold">9</text>
<path class="l" d="M1469.8 767.8C1478.4 766.0 1503.7 759.5 1521.3 756.9C1538.9 754.3 1558.5 753.0 1575.5 752.2C1592.4 751.4 1611.7 751.5 1622.9 751.9C1634.1 752.3 1630.8 752.7 1642.8 754.5C1654.9 756.4 1680.5 760.1 1695.2 762.9C1709.8 765.7 1724.8 769.9 1730.8 771.3"/>
<path class="l" d="M1464.4 772.5C1469.4 773.0 1484.7 773.4 1494.2 775.2C1503.7 777.0 1512.2 779.5 1521.3 783.3C1530.3 787.2 1540.5 792.6 1548.4 798.2C1556.3 803.9 1562.8 810.2 1568.7 817.2C1574.6 824.2 1579.5 832.3 1583.6 840.2C1587.7 848.1 1590.5 855.8 1593.1 864.6C1595.6 873.4 1597.8 888.3 1598.8 893.1"/>
<path class="l" d="M1348.0 827.6C1338.1 831.0 1307.4 842.9 1288.4 847.9C1269.4 852.9 1252.3 855.6 1234.2 857.4C1216.1 859.2 1193.2 859.1 1180.0 858.8C1166.8 858.4 1159.2 856.1 1155.1 855.5"/>
<path class="l" d="M1349.4 827.6C1348.9 832.8 1348.2 846.8 1346.7 858.8C1345.1 870.7 1344.3 880.4 1339.9 899.4C1335.4 918.4 1325.7 954.8 1320.0 973.0C1314.3 991.2 1312.6 994.4 1305.8 1008.5C1299.0 1022.5 1283.7 1049.1 1279.2 1057.2"/>
<path class="d" d="M1390.0 594.5L1404.9 650.1"/>
<path class="d" d="M1539.9 606.2L1524.7 675.8"/>
<path class="d" d="M1273.5 689.4L1280.3 739.5"/>
<circle class="w" cx="1386.0" cy="568.8" r="24.4"/>
<text x="1386.0" y="581.3" font-size="38" text-anchor="middle" font-weight="bold">F</text>
<circle class="w" cx="1544.5" cy="580.2" r="24.4"/>
<text x="1544.5" y="592.7" font-size="37" text-anchor="middle">G</text>
<circle class="w" cx="1272.7" cy="662.8" r="24.4"/>
<text x="1272.7" y="675.3" font-size="38" text-anchor="middle" font-weight="bold">E</text>
</g>
<!-- 30_main_chair1.svg -->
<g class="main">
<path class="l" d="M463.4 1706.3C461.6 1705.6 455.1 1703.9 452.3 1702.1C449.6 1700.3 447.9 1698.5 446.8 1695.6C445.6 1692.7 445.3 1688.8 445.5 1684.5C445.6 1680.2 446.3 1675.0 447.7 1669.8C449.2 1664.5 451.4 1658.2 454.2 1653.1C456.9 1648.1 460.8 1642.8 464.3 1639.3C467.9 1635.7 467.4 1635.7 475.4 1631.9C483.4 1628.0 498.5 1621.6 512.4 1616.2C526.2 1610.8 543.2 1604.2 558.6 1599.6C574.0 1594.9 594.0 1590.7 604.7 1588.5C615.5 1586.3 617.1 1586.3 623.2 1586.3C629.4 1586.3 635.5 1587.0 641.7 1588.5C647.8 1589.9 654.9 1592.6 660.2 1594.9C665.4 1597.2 669.9 1599.9 673.1 1602.3C676.3 1604.8 678.1 1607.1 679.6 1609.7C681.0 1612.3 681.8 1615.1 682.0 1618.0C682.1 1621.0 681.7 1624.7 680.5 1627.3C679.3 1629.9 677.4 1631.8 674.9 1633.7C672.5 1635.6 668.8 1637.5 665.7 1638.7C662.6 1640.0 659.1 1640.7 656.5 1641.1C653.9 1641.5 651.1 1641.1 650.0 1641.1"/>
<path class="l" d="M463.4 1706.3C462.5 1705.2 459.1 1702.0 457.9 1699.3C456.6 1696.6 456.0 1694.1 456.0 1690.1C456.0 1686.1 456.5 1680.8 457.9 1675.3C459.3 1669.8 461.4 1662.4 464.3 1656.8C467.3 1651.3 471.7 1645.7 475.4 1642.0C479.1 1638.4 480.3 1637.7 486.5 1634.7C492.7 1631.6 500.4 1628.3 512.4 1623.6C524.4 1618.8 543.2 1611.0 558.6 1606.0C574.0 1601.1 594.0 1596.6 604.7 1594.0C615.5 1591.5 617.1 1591.5 623.2 1590.7C629.4 1589.9 636.8 1589.2 641.7 1589.4C646.6 1589.6 650.9 1591.4 652.8 1591.8"/>
<path class="l" d="M463.4 1706.3C464.8 1705.2 469.1 1702.0 471.7 1699.3C474.3 1696.6 476.3 1693.5 479.1 1690.1C481.9 1686.7 485.3 1682.2 488.4 1679.0C491.4 1675.8 494.8 1672.6 497.6 1670.7C500.4 1668.8 502.8 1667.9 505.0 1667.5C507.1 1667.2 508.7 1668.0 510.5 1668.8C512.4 1669.7 513.9 1671.7 516.1 1672.5C518.2 1673.4 522.2 1673.8 523.5 1674.0"/>
<path class="l" d="M523.5 1674.0L562.3 1662.0L571.5 1658.7"/>
<path class="l" d="M571.5 1658.7C572.7 1657.1 575.8 1652.5 578.9 1649.4C582.0 1646.4 586.3 1642.5 590.0 1640.2C593.7 1637.9 597.0 1636.6 601.0 1635.6C605.0 1634.6 609.4 1634.2 614.0 1634.3C618.6 1634.4 624.1 1635.3 628.8 1636.1C633.4 1637.0 638.1 1638.4 641.7 1639.3C645.2 1640.1 648.6 1640.8 650.0 1641.1"/>
<path class="l" d="M456.9 1705.8C456.9 1710.9 456.5 1725.0 456.9 1736.3C457.4 1747.5 458.8 1764.3 459.7 1773.2C460.6 1782.2 461.1 1781.0 462.5 1790.0C463.9 1799.0 465.9 1814.6 468.0 1826.9C470.2 1839.3 473.6 1851.6 475.4 1863.9C477.2 1876.2 478.1 1886.4 478.7 1900.8C479.4 1915.3 479.4 1942.4 479.5 1950.7"/>
<path class="l" d="M469.0 1705.8C469.6 1710.9 471.3 1725.0 472.7 1736.3C474.0 1747.5 475.9 1764.3 477.3 1773.2C478.7 1782.2 479.3 1781.0 481.0 1790.0C482.7 1799.0 485.0 1814.6 487.4 1826.9C489.9 1839.3 493.6 1851.6 495.7 1863.9C497.9 1876.2 499.4 1885.1 500.4 1900.8C501.3 1916.5 501.1 1948.6 501.3 1958.1"/>
<path class="l" d="M478.2 1691.0C478.7 1695.5 479.9 1707.2 481.0 1717.8C482.0 1728.4 483.0 1742.7 484.7 1754.7C486.4 1766.8 489.0 1778.0 491.1 1790.0C493.3 1802.0 495.3 1816.5 497.6 1826.9C499.9 1837.4 503.1 1843.6 505.0 1852.8C506.8 1862.0 507.8 1872.8 508.7 1882.4C509.6 1891.9 510.2 1905.5 510.5 1910.1"/>
<path class="l" d="M519.8 1674.9C519.5 1677.5 518.8 1682.9 517.9 1690.1C517.0 1697.2 515.0 1709.5 514.2 1717.8C513.4 1726.1 513.0 1732.6 513.3 1740.0C513.6 1747.4 514.4 1755.0 516.1 1762.1C517.8 1769.2 521.8 1777.8 523.5 1782.5C525.1 1787.1 524.7 1785.0 526.2 1790.0C527.8 1795.0 530.7 1803.5 532.7 1812.2C534.7 1820.8 537.3 1836.8 538.2 1841.7"/>
<path class="l" d="M524.9 1674.9C524.7 1677.5 524.3 1682.9 523.5 1690.1C522.7 1697.2 520.7 1709.5 520.1 1717.8C519.5 1726.1 519.5 1732.9 519.8 1740.0C520.1 1747.0 520.6 1753.5 522.0 1760.3C523.4 1767.1 526.6 1775.7 528.1 1780.6C529.6 1785.6 529.2 1784.7 530.8 1790.0C532.5 1795.3 536.2 1803.4 538.2 1812.2C540.2 1820.9 542.1 1837.6 542.9 1842.7"/>
<path class="l" d="M561.3 1662.4C562.1 1665.1 563.9 1673.5 565.9 1679.0C567.9 1684.5 570.9 1690.1 573.3 1695.6C575.8 1701.2 578.9 1706.7 580.7 1712.3C582.6 1717.8 583.6 1721.8 584.4 1728.9C585.2 1736.0 585.5 1747.4 585.3 1754.7C585.2 1762.1 584.0 1767.3 583.5 1773.2C583.0 1779.1 582.8 1784.1 582.6 1790.0C582.4 1795.9 582.0 1801.9 582.2 1808.5C582.4 1815.1 583.7 1826.2 584.0 1829.7"/>
<ellipse class="l" cx="552.3" cy="1746.6" rx="23.3" ry="49.7" transform="rotate(-2 552.3 1746.6)"/>
<path class="l" d="M553.4 1697.8C554.7 1700.1 558.9 1706.5 561.3 1711.3C563.7 1716.2 566.3 1721.3 567.8 1727.0C569.3 1732.7 570.4 1739.3 570.6 1745.5C570.7 1751.7 570.2 1757.8 568.9 1764.0C567.6 1770.1 565.1 1777.2 562.6 1782.5C560.1 1787.7 555.4 1793.2 553.9 1795.4"/>
<path class="l" d="M567.8 1727.0L572.6 1727.4"/>
<path class="l" d="M628.8 1636.5C628.9 1643.9 629.1 1664.2 629.7 1680.8C630.3 1697.5 631.4 1719.3 632.5 1736.3C633.5 1753.2 635.1 1769.8 636.1 1782.5C637.2 1795.1 638.5 1807.1 638.9 1812.0"/>
<path class="l" d="M636.5 1638.4C636.8 1645.4 637.1 1664.5 638.0 1680.8C638.9 1697.2 640.3 1719.3 641.7 1736.3C643.1 1753.2 644.9 1766.9 646.3 1782.5C647.7 1798.0 649.4 1821.8 650.0 1829.7"/>
<path class="l" d="M650.6 1641.7C650.9 1648.2 651.6 1665.1 652.8 1680.8C653.9 1696.6 655.9 1719.3 657.4 1736.3C658.9 1753.2 660.6 1768.6 662.0 1782.5C663.4 1796.3 665.1 1813.2 665.7 1819.4"/>
<path class="l" d="M584.4 1824.2L641.7 1813.1L647.6 1817.7"/>
<path class="l" d="M584.4 1830.1L647.6 1817.7"/>
<path class="l" d="M505.9 1854.7C508.5 1853.4 516.2 1849.4 521.6 1847.3C527.0 1845.2 535.5 1843.0 538.2 1842.1"/>
<path class="l" style="stroke-width:2.6" d="M506.8 1863.9C509.6 1862.4 517.3 1858.0 523.5 1854.7C529.6 1851.3 537.0 1846.7 543.8 1843.6C550.5 1840.5 557.3 1838.4 564.1 1836.2C570.9 1834.0 581.0 1831.3 584.4 1830.3"/>
<path class="l" d="M510.5 1878.7C513.9 1876.5 522.8 1869.9 530.8 1865.7C538.8 1861.6 549.3 1857.1 558.6 1853.7C567.8 1850.3 577.0 1847.7 586.3 1845.4C595.5 1843.1 605.0 1841.4 614.0 1839.9C622.9 1838.4 635.5 1837.1 639.8 1836.6"/>
<path class="l" d="M538.2 1842.1L542.9 1843.0"/>
<path class="l" d="M510.5 1907.3C513.9 1905.6 521.3 1901.3 530.8 1897.1C540.4 1893.0 554.2 1887.0 567.8 1882.4C581.3 1877.8 604.7 1871.6 612.1 1869.4"/>
<path class="l" d="M510.5 1907.3C510.1 1908.7 507.6 1912.9 507.9 1915.6C508.2 1918.3 508.6 1920.0 512.4 1923.4C516.2 1926.8 521.6 1930.5 530.8 1935.9C540.1 1941.4 555.5 1949.8 567.8 1956.3C580.1 1962.7 596.1 1970.6 604.7 1974.7C613.4 1978.9 614.6 1980.0 619.5 1981.2C624.4 1982.4 629.1 1982.7 634.3 1982.1C639.5 1981.5 648.2 1978.3 650.9 1977.5"/>
<path class="l" d="M507.2 1935.9C508.7 1937.8 510.9 1942.4 516.1 1947.0C521.2 1951.6 529.6 1958.1 538.2 1963.7C546.9 1969.2 556.7 1974.6 567.8 1980.3C578.9 1986.0 596.1 1994.1 604.7 1997.8C613.4 2001.5 614.0 2001.5 619.5 2002.5C625.1 2003.4 632.1 2004.4 638.0 2003.7C643.8 2003.1 649.4 2000.5 654.6 1998.8C659.9 1997.0 666.9 1994.1 669.4 1993.2"/>
<path class="l" d="M508.3 1917.5L507.2 1935.9"/>
<path class="l" d="M505.4 1933.2L505.4 1959.6"/>
<path class="l" d="M639.8 2004.3L640.8 2019.1L687.9 2004.3"/>
<path class="l" d="M591.8 2008.9L604.7 2016.9"/>
</g>
<!-- 31_main_table_chair2.svg -->
<g class="main">
<path class="l" d="M1430.9 1742.4C1432.8 1741.9 1439.2 1741.6 1442.0 1739.6C1444.8 1737.6 1446.5 1734.4 1447.6 1730.4C1448.6 1726.4 1448.8 1721.2 1448.5 1715.6C1448.2 1710.1 1447.1 1702.7 1445.7 1697.1C1444.3 1691.6 1442.3 1686.7 1440.2 1682.4C1438.0 1678.1 1435.9 1674.4 1432.8 1671.3C1429.7 1668.2 1426.6 1667.3 1421.7 1663.9C1416.8 1660.5 1410.9 1655.6 1403.2 1651.0C1395.5 1646.3 1384.7 1640.6 1375.5 1636.2C1366.3 1631.7 1357.0 1627.7 1347.8 1624.2C1338.6 1620.6 1328.1 1617.1 1320.1 1614.9C1312.1 1612.8 1305.9 1611.6 1299.8 1611.2C1293.6 1610.9 1288.1 1612.3 1283.1 1613.1C1278.2 1613.9 1274.2 1614.8 1270.2 1615.9C1266.2 1616.9 1262.0 1618.0 1259.1 1619.6C1256.2 1621.1 1254.4 1622.9 1252.7 1625.1C1250.9 1627.3 1249.2 1629.9 1248.4 1632.5C1247.6 1635.1 1247.4 1638.0 1247.7 1640.8C1247.9 1643.6 1248.6 1646.5 1249.9 1649.1C1251.2 1651.7 1253.3 1654.5 1255.4 1656.5C1257.6 1658.5 1260.3 1659.9 1262.8 1661.1C1265.3 1662.4 1268.0 1663.3 1270.2 1663.9C1272.4 1664.5 1274.8 1664.4 1275.7 1664.5"/>
<path class="l" d="M1430.9 1742.4C1431.7 1739.8 1434.8 1732.1 1435.5 1726.7C1436.3 1721.3 1436.2 1715.6 1435.5 1710.1C1434.9 1704.5 1433.5 1698.7 1431.8 1693.5C1430.2 1688.2 1428.6 1683.3 1425.4 1678.7C1422.2 1674.1 1419.2 1670.7 1412.5 1665.7C1405.7 1660.8 1394.0 1654.2 1384.7 1649.1C1375.5 1644.0 1366.3 1639.4 1357.0 1635.3C1347.8 1631.1 1337.6 1627.3 1329.3 1624.2C1321.0 1621.1 1313.3 1618.6 1307.1 1616.8C1301.0 1614.9 1294.8 1613.7 1292.4 1613.1"/>
<path class="l" d="M1275.7 1664.5C1277.6 1663.9 1282.8 1661.9 1286.8 1661.1C1290.8 1660.4 1295.1 1659.9 1299.8 1659.8C1304.4 1659.7 1310.2 1659.9 1314.5 1660.6C1318.8 1661.2 1322.2 1662.3 1325.6 1663.9C1329.0 1665.5 1332.1 1667.9 1334.9 1670.4C1337.6 1672.8 1340.1 1676.1 1342.3 1678.7C1344.4 1681.3 1345.3 1683.8 1347.8 1686.1C1350.3 1688.3 1355.5 1691.0 1357.0 1692.0"/>
<path class="l" d="M1357.0 1692.0L1388.4 1706.0"/>
<path class="l" d="M1388.4 1706.0C1389.4 1705.3 1391.8 1702.7 1394.0 1701.8C1396.1 1700.8 1399.2 1700.2 1401.4 1700.5C1403.5 1700.8 1404.8 1701.7 1406.9 1703.6C1409.1 1705.5 1411.8 1708.4 1414.3 1711.9C1416.8 1715.5 1419.5 1720.9 1421.7 1724.9C1423.8 1728.9 1425.7 1733.0 1427.2 1735.9C1428.8 1738.9 1430.3 1741.3 1430.9 1742.4"/>
<path class="l" d="M1276.7 1664.8C1276.4 1670.8 1275.7 1688.7 1274.8 1700.8C1273.9 1713.0 1272.5 1725.5 1271.1 1737.8C1269.7 1750.1 1268.2 1762.4 1266.5 1774.7C1264.8 1787.1 1262.6 1799.7 1261.0 1811.7C1259.4 1823.7 1258.0 1833.4 1257.0 1846.9C1256.0 1860.5 1255.4 1885.4 1255.1 1893.1"/>
<path class="l" d="M1290.5 1662.0C1290.2 1668.5 1289.8 1688.2 1288.7 1700.8C1287.6 1713.5 1285.6 1725.5 1284.1 1737.8C1282.5 1750.1 1281.1 1762.4 1279.4 1774.7C1277.7 1787.1 1275.4 1801.2 1273.9 1811.7C1272.4 1822.2 1270.8 1833.2 1270.2 1837.6"/>
<path class="l" d="M1299.8 1661.1C1299.8 1667.7 1300.4 1688.1 1299.8 1700.8C1299.1 1713.6 1297.3 1725.5 1296.1 1737.8C1294.8 1750.1 1293.6 1762.4 1292.4 1774.7C1291.1 1787.1 1289.8 1801.2 1288.7 1811.7C1287.6 1822.2 1286.4 1833.2 1285.9 1837.6"/>
<path class="l" d="M1274.5 1837.7C1273.9 1842.3 1271.6 1856.0 1270.5 1865.4C1269.4 1874.8 1268.5 1889.3 1268.1 1894.1"/>
<path class="l" d="M1284.1 1861.7L1284.1 1898.3"/>
<path class="l" d="M1357.0 1692.5C1356.4 1694.8 1355.2 1701.3 1353.3 1706.4C1351.5 1711.5 1348.4 1717.2 1345.9 1723.0C1343.5 1728.9 1340.6 1734.4 1338.6 1741.5C1336.6 1748.6 1334.9 1758.4 1333.9 1765.5C1333.0 1772.6 1332.6 1777.8 1332.6 1784.0C1332.7 1790.1 1334.3 1798.1 1334.5 1802.5C1334.7 1806.8 1334.0 1805.4 1333.7 1810.0C1333.3 1814.6 1332.6 1823.7 1332.2 1830.3C1331.7 1836.9 1331.1 1846.5 1330.9 1849.7"/>
<path class="l" d="M1393.1 1705.5C1393.4 1708.4 1394.3 1717.0 1394.9 1723.0C1395.5 1729.0 1396.3 1735.3 1396.7 1741.5C1397.1 1747.6 1397.6 1753.5 1397.3 1760.0C1397.0 1766.4 1396.1 1773.8 1394.9 1780.3C1393.7 1786.7 1392.8 1789.8 1390.3 1798.8C1387.8 1807.7 1382.4 1824.8 1379.8 1834.0C1377.3 1843.3 1376.5 1848.0 1375.2 1854.3C1374.0 1860.6 1372.9 1869.0 1372.5 1871.9"/>
<path class="l" d="M1387.0 1707.3C1387.2 1709.9 1387.9 1717.3 1388.4 1723.0C1389.0 1728.7 1389.9 1735.3 1390.3 1741.5C1390.7 1747.6 1391.0 1753.5 1390.7 1760.0C1390.3 1766.4 1389.6 1773.8 1388.4 1780.3C1387.3 1786.7 1386.5 1788.6 1383.8 1798.8C1381.2 1808.9 1375.1 1831.5 1372.5 1841.4C1369.8 1851.3 1369.1 1853.0 1367.8 1858.0C1366.6 1863.1 1365.5 1869.6 1365.1 1871.9"/>
<ellipse class="l" cx="1361.5" cy="1776.2" rx="20.1" ry="49.3" transform="rotate(3 1361.5 1776.2)"/>
<path class="l" d="M1362.2 1728.2C1360.6 1730.7 1354.8 1738.3 1352.4 1743.3C1350.1 1748.3 1348.9 1752.6 1348.2 1758.1C1347.4 1763.7 1347.4 1770.1 1347.8 1776.6C1348.2 1783.1 1349.2 1790.6 1350.6 1796.9C1351.9 1803.2 1354.5 1809.9 1356.1 1814.5C1357.7 1819.0 1359.6 1822.6 1360.4 1824.3"/>
<path class="l" d="M1345.0 1755.0L1350.6 1755.0"/>
<path class="l" d="M1420.8 1725.8C1420.3 1730.9 1419.4 1745.0 1418.0 1756.3C1416.6 1767.5 1413.9 1784.3 1412.5 1793.2C1411.0 1802.2 1411.4 1799.5 1409.4 1810.0C1407.4 1820.5 1403.4 1840.8 1400.2 1856.2C1396.9 1871.6 1392.3 1890.4 1390.0 1902.4C1387.7 1914.4 1386.9 1920.8 1386.3 1928.2C1385.7 1935.6 1386.3 1943.6 1386.3 1946.7"/>
<path class="l" d="M1428.2 1740.6C1427.5 1744.7 1426.0 1755.2 1424.5 1765.5C1422.9 1775.8 1419.9 1795.0 1418.9 1802.5C1417.9 1809.9 1420.2 1801.0 1418.6 1810.0C1417.1 1819.0 1412.8 1840.8 1409.4 1856.2C1406.0 1871.6 1400.8 1890.1 1398.3 1902.4C1395.9 1914.7 1395.5 1919.3 1394.6 1930.1C1393.8 1940.9 1393.3 1956.3 1393.1 1967.0C1393.0 1977.8 1393.5 1984.0 1393.7 1994.7C1393.9 2005.5 1394.2 2018.8 1394.6 2031.7C1395.1 2044.6 1396.2 2065.6 1396.5 2072.3"/>
<path class="l" d="M1442.0 1739.6C1441.9 1744.0 1441.5 1756.6 1441.1 1765.5C1440.6 1774.4 1439.7 1785.8 1439.2 1793.2C1438.7 1800.6 1439.3 1799.5 1438.0 1810.0C1436.8 1820.5 1434.2 1840.8 1431.6 1856.2C1429.0 1871.6 1424.6 1887.0 1422.3 1902.4C1420.0 1917.8 1418.8 1934.7 1417.7 1948.6C1416.6 1962.4 1416.2 1974.7 1415.9 1985.5C1415.6 1996.3 1415.5 2002.4 1415.9 2013.2C1416.3 2024.0 1417.9 2044.0 1418.3 2050.2"/>
<path class="l" d="M1271.8 1839.6L1280.1 1835.9L1330.9 1849.7"/>
<path class="l" d="M1271.8 1839.6L1271.8 1857.1"/>
<path class="l" style="stroke-width:2.6" d="M1271.8 1841.8C1277.2 1843.2 1294.2 1847.6 1304.1 1850.3C1314.0 1852.9 1323.5 1855.3 1330.9 1857.7C1338.3 1860.0 1342.7 1862.0 1348.4 1864.5C1354.1 1867.0 1362.3 1871.4 1365.1 1872.8"/>
<path class="l" d="M1271.8 1857.1C1276.2 1858.2 1289.5 1861.0 1298.6 1863.6C1307.6 1866.1 1318.6 1869.5 1326.3 1872.4C1334.0 1875.4 1338.6 1877.8 1344.7 1881.1C1350.9 1884.4 1358.0 1888.8 1363.2 1892.2C1368.4 1895.6 1372.2 1898.5 1376.1 1901.4C1380.1 1904.4 1385.1 1908.4 1386.9 1909.8"/>
<path class="l" d="M1330.9 1849.7L1330.9 1857.7"/>
<path class="l" d="M1365.1 1872.4L1372.5 1871.9L1391.8 1883.9"/>
<path class="l" d="M1365.1 1872.8L1390.0 1895.9"/>
<path class="l" d="M1233.0 1895.4C1236.2 1895.0 1246.1 1893.4 1252.4 1893.5C1258.7 1893.6 1264.7 1894.6 1270.8 1895.9C1277.0 1897.2 1281.6 1898.8 1289.3 1901.4C1297.0 1904.1 1307.8 1907.8 1317.0 1911.6C1326.3 1915.5 1337.0 1920.5 1344.7 1924.5C1352.4 1928.5 1358.3 1932.7 1363.2 1935.6C1368.1 1938.5 1369.8 1939.8 1374.3 1942.1C1378.8 1944.4 1387.4 1948.2 1390.0 1949.5"/>
<path class="l" d="M1184.0 1981.8L1213.6 1994.7"/>
<path class="l" d="M1165.5 1994.7L1185.9 2004.0"/>
<path class="l" d="M1160.0 2007.7L1171.1 2012.3"/>
<path class="l" d="M1152.1 2003.2L1171.5 2012.1"/>
<ellipse class="l" cx="919.8" cy="1894.9" rx="312.2" ry="128.6" transform="rotate(0.4 919.8 1894.9)"/>
<ellipse class="l" style="stroke-width:1.6" cx="919.8" cy="1890.3" rx="305.2" ry="123.4" transform="rotate(0.4 919.8 1890.3)"/>
<path class="l" style="stroke-width:3.2" d="M619.1 1909.6L623.6 1918.3L629.6 1926.8L637.1 1935.2L646.1 1943.3L656.4 1951.1L668.1 1958.6L681.1 1965.8L695.3 1972.6L710.6 1978.9L727.1 1984.9L744.5 1990.3L762.8 1995.2L781.9 1999.6L801.7 2003.4L822.1 2006.6L843.1 2009.3L864.4 2011.3L886.0 2012.7L907.8 2013.5L929.6 2013.7L951.4 2013.2L973.0 2012.1L994.3 2010.4L1015.3 2008.1L1035.8 2005.1L1055.7 2001.6L1074.9 1997.5L1093.3 1992.8L1110.8 1987.7L1127.3 1982.0L1142.8 1975.9L1157.1 1969.3L1170.2 1962.3L1182.1 1954.9L1192.5 1947.3L1201.6 1939.3L1209.3 1931.1L1215.5 1922.6L1220.1 1914.0L1223.2 1905.3"/>
<path class="l" d="M632.5 1947.8C633.4 1949.6 635.0 1954.3 638.0 1958.9C641.1 1963.5 645.7 1970.0 651.0 1975.5C656.2 1981.0 663.1 1987.6 669.4 1992.1C675.8 1996.7 685.6 2001.1 688.8 2002.8"/>
<path class="l" d="M700.5 2008.4C706.7 2010.8 725.4 2018.7 737.8 2022.6C750.2 2026.5 759.3 2028.8 774.7 2031.8C790.1 2034.9 810.9 2038.6 830.2 2041.1C849.4 2043.5 868.4 2045.7 890.0 2046.6C911.7 2047.6 939.1 2047.7 960.0 2046.6C980.9 2045.6 998.5 2042.6 1015.4 2040.2C1032.4 2037.7 1047.3 2034.9 1061.6 2031.8C1075.9 2028.8 1094.7 2023.4 1101.3 2021.7"/>
<path class="l" d="M1112.4 2018.0C1117.8 2015.8 1136.3 2008.8 1144.7 2005.1C1153.2 2001.4 1156.4 1999.8 1163.2 1995.8C1170.0 1991.8 1179.2 1986.6 1185.4 1981.0C1191.5 1975.5 1196.8 1968.1 1200.2 1962.6C1203.5 1957.0 1204.8 1950.3 1205.7 1947.8"/>
<path class="l" d="M688.8 1984.7L689.4 2006.9L696.2 2010.2L700.5 2008.4L700.5 1988.1"/>
<path class="l" d="M695.7 1986.6L696.2 2010.2"/>
<path class="l" d="M1101.3 2000.4L1101.3 2023.5L1104.1 2025.4L1112.4 2021.7L1112.4 1998.6"/>
<path class="l" d="M1104.1 1999.9L1104.1 2025.4"/>
</g>
<!-- 32_main_pedestal.svg -->
<g class="main">
<path class="l" d="M766.4 2032.4L772.1 2161.3L784.1 2167.8L798.9 2163.1L798.8 2039.2"/>
<path class="l" d="M781.2 2035.5L784.1 2167.8"/>
<path class="l" d="M1097.6 2024.5L1097.9 2152.3"/>
<path class="l" d="M1112.4 2022.6L1110.8 2149.6"/>
<path class="l" d="M1130.9 2013.4L1127.5 2144.0"/>
<path class="l" d="M872.7 2048.3C872.8 2053.1 873.0 2068.2 873.6 2076.9C874.2 2085.7 875.9 2097.0 876.3 2101.0"/>
<path class="l" d="M967.4 2048.3C967.2 2053.1 966.6 2068.2 965.9 2076.9C965.3 2085.7 964.1 2097.0 963.7 2101.0"/>
<path class="l" d="M875.4 2103.7C878.5 2105.7 886.5 2113.1 893.9 2115.7C901.3 2118.4 911.1 2119.8 919.8 2119.8C928.4 2119.8 938.2 2118.4 945.6 2115.7C953.0 2113.1 961.0 2105.7 964.1 2103.7"/>
<path class="l" d="M873.6 2114.8C876.3 2117.0 882.5 2124.7 890.2 2127.8C897.9 2130.8 909.9 2133.3 919.8 2133.3C929.6 2133.3 941.6 2130.8 949.3 2127.8C957.0 2124.7 963.2 2117.0 965.9 2114.8"/>
<path class="l" d="M872.7 2126.8C875.6 2129.1 882.3 2137.4 890.2 2140.7C898.1 2144.0 909.9 2146.7 919.8 2146.8C929.6 2146.9 941.3 2144.6 949.3 2141.2C957.3 2137.9 964.7 2129.2 967.8 2126.8"/>
<path class="l" d="M876.3 2101.0C875.7 2102.0 873.1 2105.1 872.7 2107.4C872.2 2109.7 873.7 2112.0 873.6 2114.8C873.4 2117.6 872.6 2121.6 871.7 2124.1C870.9 2126.5 869.2 2126.4 868.4 2129.6C867.6 2132.8 867.3 2141.1 867.1 2143.5"/>
<path class="l" d="M963.7 2101.0C964.3 2102.0 966.9 2105.1 967.4 2107.4C967.9 2109.7 966.7 2112.0 966.9 2114.8C967.1 2117.6 967.8 2121.4 968.7 2124.1C969.6 2126.7 971.6 2127.3 972.4 2130.5C973.2 2133.8 973.2 2141.3 973.3 2143.5"/>
<path class="l" d="M867.1 2143.5C867.0 2149.6 866.3 2168.4 866.2 2180.4C866.0 2192.4 865.7 2208.4 866.2 2215.5C866.6 2222.6 867.7 2220.7 869.0 2222.9C870.2 2225.0 872.8 2227.5 873.6 2228.4"/>
<path class="l" d="M973.3 2143.5C973.2 2149.6 972.8 2168.4 972.6 2180.4C972.3 2192.4 972.5 2208.1 971.9 2215.5C971.2 2222.9 969.7 2222.6 968.7 2224.7C967.7 2226.9 966.4 2227.8 965.9 2228.4"/>
<path class="l" d="M873.6 2228.4C873.9 2230.0 873.9 2234.9 875.4 2237.7C877.0 2240.4 879.1 2243.2 882.8 2245.1C886.5 2246.9 895.1 2248.1 897.6 2248.8"/>
<path class="l" d="M965.9 2228.4C965.6 2229.7 965.6 2233.2 964.1 2235.8C962.6 2238.4 960.7 2241.8 956.7 2244.1C952.7 2246.4 945.9 2248.6 940.1 2249.7C934.2 2250.8 924.7 2250.5 921.6 2250.6"/>
<path class="l" d="M867.7 2144.4C869.0 2144.2 872.3 2142.7 875.4 2143.5C878.6 2144.2 883.6 2146.5 886.5 2149.0C889.4 2151.5 891.9 2156.7 893.0 2158.2"/>
<path class="l" d="M893.0 2158.2L893.9 2224.7"/>
<path class="l" d="M893.9 2224.7C893.6 2225.8 894.0 2230.1 892.4 2231.2C890.9 2232.3 887.5 2231.9 884.7 2231.2C881.8 2230.5 878.0 2228.5 875.4 2227.0C872.8 2225.4 870.0 2222.8 869.0 2222.0"/>
<path class="l" d="M894.8 2224.7C894.8 2213.7 893.7 2170.1 894.8 2158.2C895.9 2146.4 897.7 2154.6 901.3 2153.6C904.8 2152.6 911.1 2152.2 916.1 2152.3C921.0 2152.5 927.5 2153.2 930.8 2154.5C934.2 2155.8 935.5 2159.2 936.4 2160.1"/>
<path class="l" d="M894.8 2158.2L894.8 2226.6"/>
<path class="l" d="M936.4 2160.1L936.8 2224.7"/>
<path class="l" d="M936.8 2224.7C936.4 2226.0 936.8 2230.7 934.9 2232.5C933.0 2234.3 926.9 2235.0 925.3 2235.5"/>
<path class="l" d="M894.8 2226.6C895.0 2227.5 895.2 2230.9 896.1 2232.1C897.0 2233.4 899.7 2233.7 900.4 2234.0"/>
<path class="l" d="M937.9 2226.6C937.8 2215.3 936.2 2171.8 937.5 2159.2C938.8 2146.5 941.8 2152.9 945.6 2150.8C949.4 2148.8 956.7 2147.1 960.4 2146.8C964.1 2146.5 966.6 2148.6 967.8 2149.0"/>
<path class="l" d="M937.5 2159.2L938.2 2226.6"/>
<path class="l" d="M938.2 2226.6C938.5 2227.7 938.2 2231.9 940.1 2233.1C941.9 2234.2 945.9 2234.1 949.3 2233.6C952.7 2233.1 957.2 2232.1 960.4 2230.3C963.6 2228.5 967.3 2224.1 968.7 2222.9"/>
<path class="l" d="M875.4 2231.2C878.5 2232.0 889.6 2235.2 893.9 2236.2C898.2 2237.2 900.1 2237.1 901.3 2237.3"/>
<path class="l" d="M923.5 2238.0C927.1 2237.7 938.8 2237.1 945.6 2235.8C952.4 2234.5 961.0 2231.2 964.1 2230.3"/>
<path class="l" d="M906.8 2167.5L923.1 2167.8"/>
<path class="l" d="M906.8 2167.5C906.2 2170.9 904.2 2178.2 903.1 2187.8C902.1 2197.3 901.1 2214.0 900.4 2224.7C899.6 2235.5 899.0 2242.1 898.5 2252.5C898.0 2262.8 898.0 2275.0 897.4 2286.9C896.7 2298.9 895.7 2312.2 894.6 2323.9C893.5 2335.6 891.7 2345.9 890.9 2357.1C890.2 2368.4 890.2 2385.6 890.0 2391.3"/>
<path class="l" d="M923.1 2167.8C922.7 2171.2 921.9 2178.3 920.7 2187.8C919.5 2197.3 917.1 2214.0 916.1 2224.7C915.0 2235.5 914.9 2240.5 914.2 2252.5C913.6 2264.4 913.3 2281.2 912.2 2296.2C911.1 2311.2 908.7 2330.1 907.6 2342.4C906.4 2354.7 905.6 2361.9 905.3 2370.1C905.0 2378.2 905.6 2387.8 905.7 2391.3"/>
<path class="l" d="M922.7 2173.0C922.6 2181.6 922.5 2211.5 922.0 2224.7C921.5 2238.0 920.5 2242.1 919.8 2252.5C919.0 2262.8 918.7 2273.5 917.7 2286.9C916.8 2300.4 915.4 2319.3 914.0 2333.1C912.6 2347.0 910.7 2360.3 909.4 2370.1C908.1 2379.9 906.6 2388.2 906.1 2391.9"/>
<path class="l" d="M890.0 2391.3L906.1 2391.9"/>
<path class="l" d="M742.5 2233.3C744.5 2231.2 750.1 2226.6 754.5 2220.4C759.0 2214.2 764.4 2204.1 769.3 2196.4C774.2 2188.7 779.2 2180.1 784.1 2174.2C789.0 2168.4 793.6 2165.0 798.9 2161.3C804.1 2157.6 809.7 2154.7 815.5 2152.0C821.4 2149.4 827.8 2147.1 834.0 2145.6C840.1 2144.0 847.1 2143.3 852.5 2142.8C857.8 2142.3 864.0 2142.5 866.3 2142.4"/>
<path class="l" d="M742.5 2237.0C744.8 2234.7 751.3 2230.3 756.4 2223.2C761.5 2216.1 767.8 2202.7 773.0 2194.5C778.2 2186.4 782.9 2179.5 787.8 2174.2C792.7 2169.0 797.0 2166.5 802.6 2163.1C808.1 2159.7 814.3 2156.3 821.0 2153.9C827.8 2151.5 835.7 2149.7 843.2 2148.7C850.8 2147.7 862.5 2148.1 866.3 2148.0"/>
<path class="l" d="M742.5 2283.2C745.5 2281.5 754.1 2277.1 760.1 2273.1C766.1 2269.1 772.4 2264.3 778.6 2259.2C784.7 2254.1 790.9 2248.1 797.0 2242.6C803.2 2237.0 809.3 2230.9 815.5 2225.9C821.7 2221.0 828.4 2216.2 834.0 2213.0C839.5 2209.8 843.4 2208.2 848.8 2206.5C854.1 2204.9 863.4 2203.5 866.3 2202.9"/>
<path class="l" d="M708.4 2250.0C706.2 2250.6 699.1 2251.7 695.4 2253.7C691.7 2255.7 688.3 2258.3 686.2 2262.0C684.1 2265.7 683.2 2271.1 682.9 2275.8C682.5 2280.6 683.8 2288.1 684.0 2290.6"/>
<path class="l" d="M684.0 2290.6L709.3 2292.5"/>
<path class="l" d="M707.4 2253.7C705.1 2254.4 697.1 2256.4 693.6 2258.3C690.0 2260.1 687.4 2263.7 686.2 2264.7"/>
<path class="l" d="M972.4 2146.2C976.3 2146.7 988.6 2147.3 995.5 2149.0C1002.4 2150.7 1008.4 2153.6 1014.0 2156.4C1019.5 2159.2 1024.8 2163.0 1028.8 2165.6C1032.8 2168.2 1036.5 2171.0 1038.0 2172.1"/>
<path class="l" d="M972.4 2151.8C976.3 2152.2 988.9 2152.8 995.5 2154.5C1002.1 2156.2 1006.9 2159.2 1012.1 2161.9C1017.4 2164.7 1023.8 2169.3 1026.9 2171.2C1030.0 2173.1 1030.0 2173.0 1030.6 2173.4"/>
<path class="l" d="M972.4 2207.2C974.7 2208.0 980.9 2209.3 986.3 2211.8C991.7 2214.3 998.6 2218.1 1004.7 2222.0C1010.9 2225.8 1017.7 2230.7 1023.2 2234.9C1028.8 2239.1 1035.5 2244.9 1038.0 2246.9"/>
<path class="l" d="M1072.0 2278.9C1073.9 2280.3 1078.2 2283.8 1083.1 2287.2C1088.1 2290.6 1095.4 2296.1 1101.6 2299.2C1107.8 2302.3 1113.9 2304.2 1120.1 2305.7C1126.2 2307.1 1133.0 2307.6 1138.6 2308.1C1144.1 2308.5 1150.9 2308.4 1153.3 2308.4"/>
<path class="l" d="M1153.3 2308.4C1153.8 2306.6 1155.6 2301.0 1156.1 2297.4C1156.6 2293.7 1156.9 2289.3 1156.1 2286.3C1155.3 2283.2 1153.2 2280.6 1151.5 2278.9C1149.8 2277.2 1146.9 2276.6 1145.9 2276.1"/>
<path class="l" d="M1147.8 2278.0C1148.7 2279.3 1152.3 2282.1 1153.3 2286.3C1154.4 2290.4 1154.1 2300.1 1154.3 2302.9"/>
</g>
<!-- 33_main_chair3.svg -->
<g class="main">
<path class="w" d="M398.5 1957.6C397.9 1956.4 395.9 1953.9 394.8 1950.2C393.7 1946.5 392.7 1940.0 392.0 1935.4C391.3 1930.8 390.7 1926.0 390.7 1922.5C390.7 1918.9 390.9 1916.3 392.0 1914.2C393.1 1912.0 394.9 1910.9 397.6 1909.6C400.2 1908.2 406.0 1906.8 407.7 1906.2L407.7 1906.2C409.3 1906.9 412.9 1907.9 416.9 1910.5C421.0 1913.0 425.6 1917.4 431.7 1921.6C437.9 1925.7 445.6 1930.8 453.9 1935.4C462.2 1940.0 472.4 1945.3 481.6 1949.3C490.8 1953.3 500.1 1956.4 509.3 1959.4C518.6 1962.5 529.3 1965.3 537.0 1967.8C544.7 1970.2 549.3 1971.6 555.5 1974.2C561.7 1976.8 569.1 1980.1 574.0 1983.5C578.9 1986.8 582.3 1990.5 585.1 1994.5C587.8 1998.5 590.0 2003.5 590.6 2007.5C591.2 2011.5 590.3 2015.5 588.8 2018.6C587.2 2021.6 584.4 2023.8 581.4 2025.9C578.3 2028.1 574.3 2030.3 570.3 2031.5C566.3 2032.7 559.5 2033.0 557.4 2033.3L557.4 2033.3C556.4 2033.2 554.6 2033.5 551.8 2032.4C549.0 2031.3 544.7 2029.2 540.7 2026.9C536.7 2024.6 531.8 2021.0 527.8 2018.6C523.8 2016.1 520.4 2013.9 516.7 2012.1C513.0 2010.2 509.3 2008.5 505.6 2007.5C501.9 2006.4 497.9 2005.6 494.5 2005.6C491.2 2005.6 487.9 2006.5 485.3 2007.5C482.7 2008.5 479.9 2010.9 478.8 2011.5L478.8 2011.5L446.5 1998.2L446.5 1998.2C445.6 1997.6 442.8 1996.4 441.0 1994.5C439.1 1992.7 437.6 1990.2 435.4 1987.1C433.3 1984.1 430.8 1979.6 428.0 1976.1C425.3 1972.5 422.2 1968.7 418.8 1965.9C415.4 1963.1 411.1 1960.8 407.7 1959.4C404.3 1958.1 400.0 1957.9 398.5 1957.6Z"/>
<path class="l" d="M392.0 1914.2C393.4 1914.3 396.8 1913.7 400.3 1915.1C403.9 1916.5 408.0 1919.4 413.3 1922.5C418.5 1925.6 425.0 1929.7 431.7 1933.6C438.5 1937.4 445.6 1941.6 453.9 1945.6C462.2 1949.6 472.4 1954.1 481.6 1957.6C490.8 1961.1 500.1 1963.7 509.3 1966.8C518.6 1969.9 529.3 1973.0 537.0 1976.1C544.7 1979.1 550.0 1981.9 555.5 1985.3C561.0 1988.7 566.4 1992.4 570.3 1996.4C574.1 2000.4 577.4 2005.3 578.6 2009.3C579.8 2013.3 578.7 2017.0 577.7 2020.4C576.6 2023.8 573.1 2028.1 572.1 2029.6"/>
<path class="l" style="stroke-width:2.8" d="M479.8 2011.5C480.8 2010.9 483.9 2008.8 486.2 2007.8C488.5 2006.9 492.4 2006.3 493.6 2006.0"/>
<path class="l" d="M397.6 1958.5C397.6 1963.9 397.4 1982.3 397.6 1990.8C397.7 1999.4 397.7 2002.2 398.5 2010.0C399.2 2017.8 400.0 2026.9 402.2 2037.7C404.3 2048.5 408.6 2063.9 411.4 2074.7C414.2 2085.4 416.8 2091.6 418.8 2102.4C420.8 2113.1 422.5 2127.0 423.4 2139.3C424.3 2151.6 424.1 2164.0 424.3 2176.3C424.6 2188.6 425.2 2198.1 424.7 2213.2C424.2 2228.3 423.0 2250.3 421.6 2266.9C420.1 2283.6 417.9 2297.7 416.0 2313.1C414.2 2328.5 412.3 2344.4 410.5 2359.3C408.7 2374.3 406.2 2395.5 405.3 2402.7"/>
<path class="l" d="M405.9 1959.4C405.7 1964.7 404.9 1982.4 404.9 1990.8C405.0 1999.3 405.3 2002.2 406.2 2010.0C407.2 2017.8 408.5 2026.9 410.5 2037.7C412.4 2048.5 415.3 2063.9 417.9 2074.7C420.5 2085.4 424.0 2091.6 426.2 2102.4C428.3 2113.1 429.9 2127.0 430.8 2139.3C431.7 2151.6 431.5 2164.0 431.7 2176.3C432.0 2188.6 432.7 2198.1 432.3 2213.2C431.9 2228.3 430.8 2250.3 429.5 2266.9C428.2 2283.6 426.1 2297.7 424.3 2313.1C422.6 2328.5 420.6 2343.2 418.8 2359.3C417.0 2375.5 414.5 2401.7 413.6 2410.1"/>
<path class="l" d="M418.8 1965.9C419.6 1971.6 422.3 1992.7 423.4 2000.1C424.5 2007.4 423.9 2002.2 425.3 2010.0C426.6 2017.8 429.1 2034.6 431.7 2046.9C434.3 2059.3 437.9 2072.2 441.0 2083.9C444.0 2095.6 448.7 2111.6 450.2 2117.1"/>
<path class="l" d="M446.9 1999.2C446.7 2002.7 446.0 2014.1 445.6 2020.4C445.2 2026.7 444.3 2031.2 444.3 2037.0C444.3 2042.9 444.6 2049.3 445.6 2055.5C446.6 2061.7 448.2 2066.9 450.2 2074.0C452.2 2081.1 455.3 2090.3 457.6 2098.0C459.9 2105.7 462.1 2112.2 464.1 2120.2C466.1 2128.1 468.7 2141.5 469.6 2145.8"/>
<path class="l" d="M482.5 2012.1C483.6 2014.7 486.7 2022.1 489.0 2027.8C491.3 2033.5 494.1 2040.1 496.4 2046.3C498.7 2052.4 501.2 2058.6 502.9 2064.7C504.5 2070.9 505.8 2077.1 506.5 2083.2C507.3 2089.4 507.5 2095.5 507.5 2101.7C507.5 2107.8 506.5 2113.9 506.5 2120.2C506.5 2126.4 507.0 2132.7 507.5 2139.3C507.9 2145.9 509.0 2156.3 509.3 2159.6"/>
<path class="l" d="M476.4 2012.6C477.3 2015.8 479.5 2025.3 481.6 2031.5C483.7 2037.7 486.7 2043.8 489.0 2050.0C491.3 2056.1 493.6 2062.3 495.5 2068.4C497.3 2074.6 499.1 2080.8 500.1 2086.9C501.1 2093.1 501.6 2099.2 501.6 2105.4C501.6 2111.5 500.2 2118.2 500.1 2123.9C500.0 2129.5 500.6 2133.2 501.0 2139.3C501.4 2145.4 502.1 2157.0 502.3 2160.6"/>
<ellipse class="l" cx="473.3" cy="2075.8" rx="17.7" ry="45.8" transform="rotate(-14 473.3 2075.8)"/>
<path class="l" d="M462.6 2032.6C462.1 2034.9 460.0 2040.9 459.8 2046.3C459.7 2051.6 460.4 2058.6 461.7 2064.7C462.9 2070.9 464.7 2077.1 467.2 2083.2C469.7 2089.4 473.2 2096.0 476.4 2101.7C479.7 2107.4 485.1 2114.8 486.8 2117.4"/>
<path class="l" d="M453.9 2055.5L460.4 2052.7"/>
<path class="l" d="M476.4 2044.4L470.2 2092.5"/>
<path class="l" style="stroke-width:2.8" d="M491.8 2088.8C491.6 2091.5 491.6 2100.5 490.8 2105.4C490.1 2110.3 487.8 2116.2 487.1 2118.3"/>
<path class="l" d="M540.4 2027.8C540.2 2034.0 539.2 2055.4 539.2 2064.7C539.3 2074.1 540.0 2076.1 540.7 2083.9C541.4 2091.7 542.3 2103.9 543.5 2111.6C544.7 2119.3 546.4 2119.3 548.1 2130.1C549.8 2140.9 552.4 2162.4 553.7 2176.3C554.9 2190.1 555.2 2198.1 555.5 2213.2C555.8 2228.3 555.6 2253.4 555.5 2266.9C555.4 2280.5 555.7 2282.3 555.1 2294.7C554.5 2307.0 553.3 2320.8 551.8 2340.8C550.3 2360.9 548.1 2393.0 546.3 2414.7C544.4 2436.4 541.6 2461.7 540.7 2471.1"/>
<path class="l" d="M553.7 2033.3C553.5 2038.6 552.7 2056.3 552.7 2064.7C552.8 2073.2 553.3 2076.1 554.0 2083.9C554.8 2091.7 556.2 2103.9 557.4 2111.6C558.5 2119.3 559.5 2119.3 561.0 2130.1C562.6 2140.9 565.4 2162.4 566.6 2176.3C567.8 2190.1 568.1 2198.1 568.4 2213.2C568.8 2228.3 568.8 2253.4 568.8 2266.9C568.8 2280.5 569.1 2280.8 568.4 2294.7C567.8 2308.5 566.3 2330.1 564.7 2350.1C563.2 2370.1 561.0 2393.6 559.2 2414.7C557.4 2435.8 554.9 2466.3 554.0 2476.6"/>
<path class="l" d="M562.9 2034.3C563.4 2039.3 564.9 2056.5 565.7 2064.7C566.4 2073.0 566.1 2074.5 567.5 2083.9C568.9 2093.2 571.8 2107.0 574.0 2120.8C576.1 2134.7 578.7 2154.7 580.4 2167.0C582.1 2179.3 583.4 2181.2 584.1 2194.7C584.9 2208.3 585.1 2228.7 585.1 2248.5C585.1 2268.2 585.1 2291.6 584.1 2313.1C583.2 2334.7 581.4 2357.8 579.5 2377.8C577.7 2397.8 574.8 2418.4 573.1 2433.2C571.3 2448.1 569.5 2461.2 568.8 2466.8"/>
<path class="l" d="M434.9 2136.5L434.5 2119.9L449.3 2117.1L465.4 2131.9"/>
<path class="l" style="stroke-width:2.6" d="M435.4 2120.5C438.2 2122.7 446.5 2129.6 452.0 2133.8C457.6 2138.0 463.1 2142.4 468.7 2145.8C474.2 2149.2 479.8 2151.6 485.3 2154.1C490.8 2156.6 499.2 2159.5 501.9 2160.6"/>
<path class="l" d="M507.5 2159.6C510.9 2160.7 520.7 2164.0 527.8 2166.1C534.9 2168.2 546.3 2171.2 550.0 2172.2"/>
<path class="l" d="M509.3 2163.3C512.7 2164.5 522.6 2168.0 529.6 2170.4C536.7 2172.7 548.1 2176.1 551.8 2177.2"/>
<path class="l" d="M434.9 2136.5C438.0 2139.1 447.6 2147.4 453.9 2151.9C460.1 2156.3 466.2 2159.9 472.4 2163.3C478.5 2166.8 481.6 2168.7 490.8 2172.6C500.1 2176.4 517.5 2182.8 527.8 2186.4C538.1 2190.1 548.6 2193.0 552.7 2194.4"/>
<path class="l" d="M453.9 2155.9C453.9 2159.3 453.3 2172.0 453.9 2176.3C454.5 2180.6 451.4 2177.2 457.6 2181.8C463.7 2186.4 479.1 2197.5 490.8 2204.0C502.5 2210.4 517.3 2216.3 527.8 2220.6C538.3 2224.9 549.3 2228.3 553.7 2229.8"/>
<path class="l" d="M455.7 2157.8C458.5 2159.3 466.5 2164.0 472.4 2167.0C478.2 2170.1 481.6 2171.6 490.8 2176.3C500.1 2180.9 517.3 2189.8 527.8 2194.7C538.3 2199.7 549.3 2204.0 553.7 2205.8"/>
<path class="l" d="M439.5 2211.4L439.5 2181.8L450.2 2179.0"/>
<path class="l" d="M440.6 2182.7L553.7 2236.3"/>
<path class="l" d="M439.5 2211.4L553.7 2265.9"/>
<path class="l" d="M453.9 2218.8C454.1 2223.7 455.8 2237.4 455.4 2248.5C454.9 2259.6 453.2 2268.5 451.1 2285.4C449.0 2302.4 445.5 2330.4 442.8 2350.1C440.1 2369.7 436.3 2394.4 435.1 2403.3"/>
<path class="l" d="M507.5 2131.0L542.6 2119.0"/>
<path class="l" d="M571.2 2108.8C574.7 2107.9 586.4 2104.2 592.5 2103.3C598.5 2102.4 602.6 2102.5 607.2 2103.3C611.8 2104.1 614.9 2105.8 620.2 2107.9C625.4 2110.0 626.1 2110.5 638.6 2115.7C651.2 2120.9 677.3 2131.5 695.4 2139.1C713.5 2146.7 737.5 2157.0 747.1 2161.3C756.8 2165.6 752.2 2163.4 753.6 2165.0C755.0 2166.5 755.2 2169.6 755.5 2170.5"/>
<path class="l" d="M585.1 2213.2C589.4 2212.8 602.0 2212.0 610.9 2210.4C619.9 2208.9 630.7 2205.6 638.6 2204.0C646.6 2202.3 649.0 2202.6 658.5 2200.5C667.9 2198.3 683.1 2194.6 695.4 2190.8C707.7 2187.1 722.6 2181.5 732.4 2177.9C742.2 2174.3 750.5 2170.5 754.2 2169.0"/>
<path class="l" d="M584.1 2235.4C588.6 2235.1 601.8 2234.9 610.9 2233.5C620.0 2232.2 626.1 2230.2 638.6 2227.4C651.2 2224.6 672.1 2220.3 686.2 2216.7C700.3 2213.1 713.6 2209.2 723.1 2205.6C732.7 2202.1 738.5 2197.9 743.5 2195.5C748.4 2193.0 751.2 2191.6 752.7 2190.8"/>
<path class="l" d="M585.1 2264.9L708.4 2229.6L721.3 2225.9"/>
<path class="l" d="M755.5 2170.5C755.5 2173.0 755.9 2181.9 755.5 2185.3C755.0 2188.7 753.2 2189.9 752.7 2190.8"/>
<path class="l" d="M501.6 2008.4L496.0 2043.5"/>
<path class="l" d="M511.5 2010.2L503.4 2066.6"/>
<path class="l" d="M606.3 2000.1L606.3 2102.6"/>
<path class="l" d="M621.1 2004.7L621.1 2107.6"/>
<path class="l" d="M638.6 2004.1L637.7 2114.6"/>
<path class="l" d="M646.9 2018.6L640.5 2093.4L654.3 2091.5L661.7 2013.9"/>
</g>
<!-- 34_main_chair4.svg -->
<g class="main">
<path class="l" d="M723.1 2205.6C723.0 2215.5 722.3 2245.0 722.2 2264.7C722.2 2284.5 722.4 2306.3 722.8 2323.9C723.2 2341.5 723.9 2354.1 724.7 2370.1C725.4 2386.1 727.0 2411.6 727.4 2420.0"/>
<path class="l" d="M741.2 2198.2C741.3 2209.3 741.4 2243.8 741.6 2264.7C741.8 2285.7 742.1 2306.3 742.2 2323.9C742.3 2341.5 742.2 2355.1 742.2 2370.1C742.2 2385.1 742.2 2406.7 742.2 2414.0"/>
<path class="l" d="M708.7 2229.6C708.9 2238.6 709.6 2270.6 709.8 2283.2C710.0 2295.8 709.5 2292.5 709.9 2305.4C710.3 2318.4 711.4 2342.8 712.1 2360.8C712.8 2378.9 713.8 2404.7 714.1 2413.5"/>
<path class="l" d="M714.1 2413.5L727.4 2420.0L742.2 2414.0"/>
<path class="l" d="M405.3 2402.7L413.6 2410.1L435.1 2403.3"/>
<path class="l" d="M540.7 2471.1L554.0 2476.6L568.8 2466.8"/>
<path class="l" d="M586.0 2265.1L583.2 2348.2L591.5 2352.9L606.9 2348.2L608.7 2260.5"/>
<path class="l" d="M591.5 2265.1L591.9 2352.9"/>
<path class="w" d="M1167.9 2051.3C1166.5 2050.1 1161.6 2047.0 1159.6 2043.9C1157.5 2040.8 1155.8 2036.4 1155.5 2032.8C1155.2 2029.3 1155.8 2025.7 1157.7 2022.7C1159.6 2019.6 1162.9 2017.0 1166.9 2014.3C1171.0 2011.7 1175.6 2009.4 1181.7 2006.9C1187.9 2004.5 1196.5 2001.4 1203.9 1999.6C1211.3 1997.7 1216.8 1997.6 1226.1 1995.9C1235.3 1994.2 1249.2 1991.7 1259.3 1989.4C1269.5 1987.1 1277.8 1984.6 1287.0 1982.0C1296.3 1979.4 1303.6 1978.7 1314.7 1973.7C1325.9 1968.7 1344.4 1957.3 1354.0 1952.3C1363.6 1947.2 1367.7 1944.6 1372.5 1943.4C1377.2 1942.2 1379.8 1944.1 1382.6 1945.2C1385.4 1946.3 1388.0 1949.2 1389.1 1950.0L1389.1 1950.0C1389.4 1951.3 1391.0 1954.7 1391.3 1957.8C1391.6 1960.9 1391.4 1964.9 1390.9 1968.9C1390.4 1972.9 1389.5 1978.0 1388.2 1981.8C1386.8 1985.7 1385.6 1989.6 1382.6 1992.0C1379.6 1994.3 1372.2 1995.2 1370.2 1995.9L1370.2 1995.9C1368.0 1996.2 1361.8 1996.2 1357.2 1997.7C1352.6 1999.3 1346.5 2002.3 1342.5 2005.1C1338.4 2007.9 1335.7 2011.6 1333.2 2014.3C1330.8 2017.1 1329.5 2019.7 1327.7 2021.7C1325.8 2023.7 1323.1 2025.6 1322.1 2026.3L1322.1 2026.3L1275.9 2041.1L1275.9 2041.1C1274.4 2040.4 1270.1 2037.7 1266.7 2036.5C1263.3 2035.3 1259.3 2034.0 1255.6 2033.7C1251.9 2033.4 1249.5 2033.3 1244.5 2034.7C1239.6 2036.0 1232.2 2039.6 1226.1 2042.0C1219.9 2044.5 1213.1 2047.0 1207.6 2049.4C1202.0 2051.9 1197.4 2055.6 1192.8 2056.8C1188.2 2058.1 1184.0 2057.8 1179.9 2056.8C1175.7 2055.9 1169.9 2052.2 1167.9 2051.3Z"/>
<path class="l" d="M1167.9 2051.3C1167.7 2049.4 1166.6 2043.9 1166.9 2040.2C1167.3 2036.5 1167.9 2032.3 1169.7 2029.1C1171.6 2025.9 1174.2 2023.3 1178.0 2020.8C1181.9 2018.3 1187.0 2016.5 1192.8 2014.3C1198.7 2012.2 1205.1 2010.0 1213.1 2007.9C1221.1 2005.7 1231.6 2003.4 1240.8 2001.4C1250.1 1999.4 1259.3 1998.0 1268.6 1995.9C1277.8 1993.7 1286.6 1991.7 1296.3 1988.5C1305.9 1985.2 1315.7 1981.1 1326.3 1976.3C1336.8 1971.5 1350.9 1963.8 1359.5 1959.6C1368.1 1955.5 1373.5 1952.6 1378.0 1951.1C1382.5 1949.7 1384.9 1950.8 1386.3 1950.8"/>
<path class="l" style="stroke-width:2.8" d="M1265.8 2037.4C1266.7 2037.9 1269.6 2039.6 1271.3 2040.2C1273.0 2040.8 1275.2 2041.0 1275.9 2041.1"/>
<path class="l" d="M1187.3 2057.8C1187.0 2061.6 1186.3 2070.8 1185.4 2080.8C1184.5 2090.9 1183.3 2103.9 1181.7 2117.8C1180.2 2131.6 1177.5 2151.3 1176.2 2164.0C1174.8 2176.7 1174.5 2182.8 1173.7 2193.9C1172.8 2205.0 1171.5 2218.5 1170.9 2230.8C1170.3 2243.2 1170.0 2255.5 1170.0 2267.8C1170.0 2280.1 1170.1 2283.3 1170.9 2304.7C1171.7 2326.2 1173.4 2376.3 1174.6 2396.3C1175.8 2416.3 1176.8 2409.2 1178.2 2424.7C1179.7 2440.2 1182.5 2478.5 1183.4 2489.3"/>
<path class="l" d="M1194.3 2056.8C1194.4 2060.8 1195.1 2070.7 1194.7 2080.8C1194.3 2091.0 1193.1 2103.9 1191.9 2117.8C1190.7 2131.6 1188.3 2151.3 1187.3 2164.0C1186.2 2176.7 1186.4 2182.8 1185.7 2193.9C1184.9 2205.0 1183.4 2218.5 1182.9 2230.8C1182.4 2243.2 1182.5 2255.5 1182.5 2267.8C1182.5 2280.1 1182.4 2286.4 1182.9 2304.7C1183.4 2323.1 1184.6 2357.8 1185.7 2377.8C1186.7 2397.8 1187.8 2404.2 1189.3 2424.7C1190.8 2445.1 1193.6 2487.8 1194.5 2500.4"/>
<path class="l" d="M1207.6 2050.4C1207.7 2055.4 1208.6 2069.6 1208.5 2080.8C1208.5 2092.1 1208.1 2103.9 1207.2 2117.8C1206.3 2131.6 1204.1 2151.3 1203.0 2164.0C1201.8 2176.7 1201.2 2182.8 1200.4 2193.9C1199.7 2205.0 1199.1 2218.5 1198.6 2230.8C1198.1 2243.2 1197.8 2255.5 1197.7 2267.8C1197.5 2280.1 1197.4 2289.5 1197.7 2304.7C1198.0 2320.0 1198.4 2339.3 1199.5 2359.3C1200.6 2379.3 1202.5 2401.8 1204.1 2424.7C1205.7 2447.6 1208.4 2484.7 1209.3 2496.7"/>
<path class="l" d="M1183.4 2489.3L1194.5 2500.4L1209.3 2496.7"/>
<path class="l" d="M1230.7 2041.1L1231.6 2127.0"/>
<path class="l" d="M1246.4 2035.6L1246.8 2134.4"/>
<path class="l" d="M1262.6 2037.4L1262.6 2069.8"/>
<path class="l" d="M1265.2 2043.0L1266.2 2062.4"/>
<path class="l" d="M1273.2 2042.0C1272.1 2045.4 1269.3 2055.9 1266.7 2062.4C1264.1 2068.8 1259.9 2074.1 1257.5 2080.8C1255.0 2087.6 1253.0 2095.3 1251.9 2103.0C1250.9 2110.7 1250.7 2119.9 1251.0 2127.0C1251.3 2134.1 1253.0 2139.3 1253.8 2145.5C1254.5 2151.7 1255.8 2156.9 1255.6 2164.0C1255.5 2171.1 1253.3 2184.0 1252.9 2188.0"/>
<path class="l" d="M1279.3 2043.0C1278.3 2046.2 1275.7 2056.1 1273.2 2062.4C1270.6 2068.7 1266.4 2074.1 1263.9 2080.8C1261.5 2087.6 1259.5 2095.3 1258.4 2103.0C1257.3 2110.7 1257.2 2119.9 1257.5 2127.0C1257.8 2134.1 1259.6 2139.3 1260.2 2145.5C1260.9 2151.7 1261.8 2156.6 1261.5 2164.0C1261.2 2171.4 1258.9 2185.5 1258.4 2189.8"/>
<path class="l" d="M1252.9 2188.0L1258.4 2189.8"/>
<path class="l" d="M1316.6 2030.0C1316.9 2033.0 1317.5 2041.6 1318.4 2047.6C1319.4 2053.6 1321.4 2059.9 1322.1 2066.1C1322.9 2072.2 1323.4 2078.4 1323.1 2084.5C1322.7 2090.7 1321.7 2096.9 1320.3 2103.0C1318.9 2109.2 1316.9 2115.3 1314.7 2121.5C1312.6 2127.6 1309.5 2133.8 1307.4 2140.0C1305.2 2146.1 1303.2 2152.3 1301.8 2158.4C1300.4 2164.6 1299.5 2173.8 1299.0 2176.9"/>
<ellipse class="l" cx="1289.2" cy="2106.7" rx="19.6" ry="45.4" transform="rotate(18 1289.2 2106.7)"/>
<path class="l" d="M1302.2 2063.8C1303.2 2066.7 1307.5 2074.9 1308.5 2080.8C1309.4 2086.8 1309.1 2092.5 1307.7 2099.3C1306.4 2106.1 1303.4 2114.7 1300.3 2121.5C1297.3 2128.3 1293.0 2135.9 1289.2 2140.0C1285.5 2144.0 1279.7 2144.9 1277.8 2145.9"/>
<path class="l" d="M1306.4 2084.5L1312.0 2087.3"/>
<path class="l" d="M1279.6 2080.8L1284.3 2117.8"/>
<path class="l" d="M1294.4 2066.1L1299.0 2112.3"/>
<path class="l" d="M1270.4 2099.3L1270.8 2112.3L1284.3 2118.7L1299.0 2112.3"/>
<path class="l" d="M1358.2 1997.7C1357.7 2003.9 1357.1 2020.8 1355.4 2034.7C1353.7 2048.5 1350.8 2067.0 1348.0 2080.8C1345.2 2094.7 1341.5 2106.7 1338.8 2117.8C1336.0 2128.9 1332.6 2142.4 1331.4 2147.4"/>
<path class="l" d="M1370.2 1995.9C1370.2 2002.3 1370.8 2022.0 1370.2 2034.7C1369.5 2047.3 1368.3 2059.3 1366.5 2071.6C1364.6 2083.9 1361.5 2096.2 1359.1 2108.6C1356.6 2120.9 1353.5 2133.2 1351.7 2145.5C1349.8 2157.8 1348.5 2164.1 1348.0 2182.5C1347.5 2200.8 1348.4 2237.1 1348.4 2255.4C1348.5 2273.7 1347.7 2277.0 1348.4 2292.4C1349.2 2307.8 1351.4 2329.3 1353.1 2347.8C1354.7 2366.3 1357.1 2386.9 1358.6 2403.2C1360.1 2419.5 1361.7 2438.6 1362.3 2445.7"/>
<path class="l" d="M1380.9 1994.9C1380.6 2001.6 1380.3 2021.9 1379.4 2034.7C1378.5 2047.4 1377.6 2059.3 1375.7 2071.6C1373.9 2083.9 1370.8 2096.2 1368.3 2108.6C1365.9 2120.9 1362.6 2133.2 1360.9 2145.5C1359.2 2157.8 1358.9 2164.1 1358.2 2182.5C1357.5 2200.8 1356.7 2237.1 1356.7 2255.4C1356.8 2273.7 1357.5 2277.0 1358.6 2292.4C1359.7 2307.8 1361.5 2329.3 1363.2 2347.8C1364.9 2366.3 1367.1 2387.8 1368.8 2403.2C1370.5 2418.6 1372.6 2434.0 1373.4 2440.2"/>
<path class="l" d="M1325.3 2251.7C1325.3 2256.0 1324.7 2267.7 1325.3 2277.6C1326.0 2287.4 1327.3 2296.1 1329.0 2310.8C1330.7 2325.6 1333.5 2349.3 1335.5 2366.3C1337.5 2383.2 1339.7 2400.6 1341.0 2412.5C1342.4 2424.3 1343.4 2433.2 1343.8 2437.4"/>
<path class="l" d="M1343.8 2437.4L1362.3 2445.7L1373.4 2440.2"/>
<path class="l" d="M1384.0 1997.7C1384.3 2003.9 1384.5 2020.8 1385.9 2034.7C1387.3 2048.5 1390.0 2065.4 1392.3 2080.8C1394.6 2096.2 1397.4 2110.7 1399.7 2127.0C1402.0 2143.3 1405.1 2170.1 1406.2 2178.8"/>
<path class="l" d="M1390.5 1997.7C1390.8 2003.9 1391.1 2020.8 1392.3 2034.7C1393.6 2048.5 1395.7 2065.4 1397.9 2080.8C1400.0 2096.2 1402.8 2111.0 1405.3 2127.0C1407.7 2143.0 1411.4 2168.6 1412.7 2176.9"/>
<path class="l" d="M1406.2 2178.8L1413.6 2184.3L1434.0 2180.6"/>
<path class="l" d="M1418.3 2050.2C1418.6 2053.5 1419.5 2060.9 1420.5 2070.0C1421.5 2079.1 1422.7 2093.9 1424.0 2105.0C1425.3 2116.1 1426.4 2123.9 1428.1 2136.5C1429.8 2149.1 1433.0 2173.2 1434.0 2180.6"/>
<path class="l" d="M1331.4 2147.4L1335.1 2152.0L1344.3 2153.8L1344.3 2168.6"/>
<path class="l" d="M1201.1 2196.3C1204.7 2195.7 1213.9 2194.3 1222.4 2192.6C1230.8 2190.9 1247.0 2187.2 1251.9 2186.1"/>
<path class="l" style="stroke-width:2.6" d="M1259.3 2188.9C1265.5 2187.2 1285.5 2182.9 1296.3 2178.8C1307.0 2174.6 1317.5 2168.3 1324.0 2164.0C1330.4 2159.7 1333.2 2154.7 1335.1 2152.9"/>
<path class="l" d="M1299.0 2170.4C1301.7 2169.1 1309.4 2165.8 1314.7 2162.1C1320.1 2158.4 1328.6 2150.6 1331.4 2148.3"/>
<path class="l" d="M1200.2 2202.8C1207.0 2201.7 1227.9 2198.8 1240.8 2196.3C1253.8 2193.8 1265.5 2191.2 1277.8 2188.0C1290.1 2184.8 1303.7 2180.1 1314.7 2176.9C1325.8 2173.7 1339.4 2170.0 1344.3 2168.6"/>
<path class="l" d="M1199.3 2219.4C1206.2 2218.2 1227.8 2214.8 1240.8 2212.0C1253.9 2209.2 1267.0 2206.2 1277.8 2202.8C1288.6 2199.4 1297.5 2195.1 1305.5 2191.7C1313.5 2188.3 1322.4 2184.0 1325.8 2182.5"/>
<path class="l" d="M1325.8 2182.5L1326.7 2210.2"/>
<path class="l" d="M1199.5 2233.6C1206.3 2232.2 1227.2 2228.5 1240.2 2225.3C1253.1 2222.1 1265.8 2217.8 1277.1 2214.2C1288.4 2210.6 1299.7 2206.7 1307.8 2203.7C1315.9 2200.6 1322.9 2197.2 1325.9 2195.9"/>
<path class="l" style="stroke-width:2.8" d="M1198.6 2256.7C1205.5 2254.9 1228.1 2248.9 1240.2 2245.6C1252.2 2242.3 1259.6 2240.9 1270.8 2236.9C1282.1 2233.0 1298.6 2226.3 1307.8 2222.2C1317.0 2218.0 1323.2 2213.7 1326.3 2212.0"/>
<path class="l" d="M1199.7 2261.9L1326.3 2215.1"/>
<path class="l" d="M1326.3 2212.0L1338.8 2215.1L1339.6 2244.3"/>
<path class="l" d="M1199.7 2290.5L1339.6 2244.3"/>
<path class="l" d="M1327.2 2200.0L1326.3 2212.0"/>
<path class="l" d="M1201.0 2291.4L1202.1 2370.9L1214.1 2377.7L1229.3 2372.7L1230.6 2283.1"/>
<path class="l" d="M1213.6 2287.8L1214.1 2377.7"/>
<path class="l" d="M1038.8 2169.9L1180.1 2130.2"/>
<path class="l" d="M1038.8 2169.9C1037.4 2170.5 1032.5 2172.0 1030.5 2173.6C1028.5 2175.1 1027.5 2176.3 1026.8 2179.1C1026.1 2181.9 1026.3 2186.5 1026.2 2190.2C1026.1 2193.9 1025.5 2198.7 1026.2 2201.3C1026.9 2203.9 1029.8 2205.1 1030.5 2205.9"/>
<path class="l" d="M1027.7 2181.9C1030.8 2183.6 1038.5 2188.2 1046.2 2192.0C1053.9 2195.9 1063.1 2200.2 1073.9 2205.0C1084.7 2209.8 1098.5 2216.1 1110.8 2220.7C1123.2 2225.3 1137.9 2230.1 1147.8 2232.7C1157.6 2235.3 1166.3 2235.8 1170.0 2236.4"/>
<path class="l" d="M1026.8 2202.2C1030.0 2204.2 1038.3 2210.1 1046.2 2214.2C1054.0 2218.4 1063.1 2222.5 1073.9 2227.1C1084.7 2231.8 1098.5 2237.5 1110.8 2241.9C1123.2 2246.4 1137.6 2251.2 1147.8 2253.9C1158.0 2256.6 1167.8 2257.5 1171.8 2258.2"/>
<path class="l" d="M1055.4 2237.3L1092.4 2253.0L1129.3 2269.6L1171.8 2288.1"/>
<path class="l" d="M1206.9 2127.4C1208.8 2127.2 1214.0 2125.9 1218.0 2126.5C1222.0 2127.1 1226.0 2129.1 1230.9 2131.1C1235.9 2133.1 1244.8 2137.2 1247.6 2138.5"/>
<path class="l" d="M1130.0 2144.6L1179.9 2130.7"/>
<path class="l" d="M1207.6 2127.0C1209.4 2127.0 1214.4 2126.1 1218.7 2127.0C1223.0 2128.0 1228.2 2130.4 1233.5 2132.6C1238.7 2134.7 1247.3 2138.7 1250.1 2140.0"/>
<path class="l" d="M1037.9 2209.6C1037.9 2222.4 1037.9 2264.4 1037.9 2286.3C1037.9 2308.1 1037.9 2317.6 1037.9 2340.8C1037.9 2364.1 1037.9 2411.7 1037.9 2425.8"/>
<path class="l" d="M1054.5 2218.8C1054.4 2230.1 1054.1 2272.1 1053.9 2286.3C1053.8 2300.4 1053.8 2290.2 1053.6 2303.9C1053.4 2317.6 1053.0 2347.2 1052.7 2368.6C1052.3 2390.0 1051.6 2421.7 1051.4 2432.3"/>
<path class="l" d="M1071.1 2245.6C1071.1 2252.4 1071.3 2276.6 1071.1 2286.3C1071.0 2296.0 1070.7 2290.2 1070.2 2303.9C1069.7 2317.6 1069.0 2348.1 1068.4 2368.6C1067.7 2389.0 1066.8 2417.0 1066.5 2426.7"/>
<path class="l" d="M1037.9 2425.8L1051.4 2432.3L1066.5 2426.7"/>
</g>
</svg>
</body>
</html>
